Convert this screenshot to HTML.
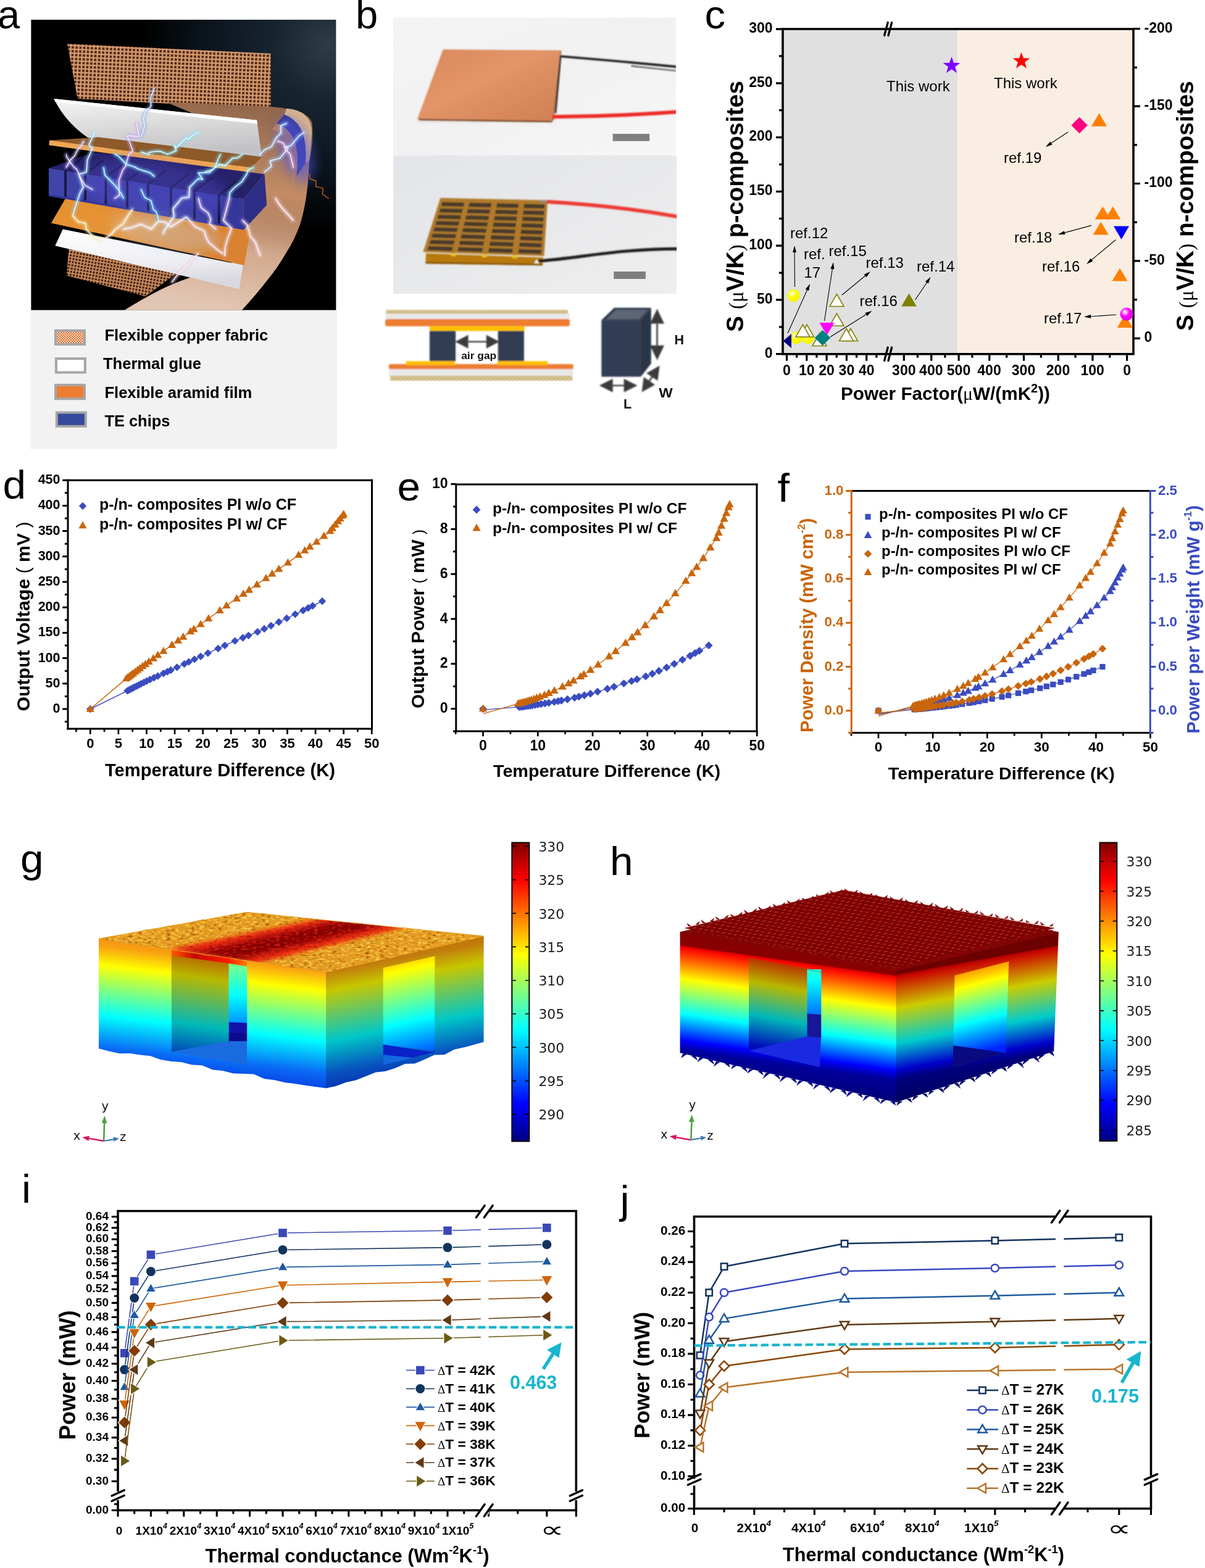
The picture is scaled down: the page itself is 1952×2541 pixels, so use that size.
<!DOCTYPE html>
<html lang="en">
<head>
<meta charset="utf-8">
<title>Flexible thermoelectric generator figure</title>
<style>
html,body{margin:0;padding:0;background:#fff;}
svg{display:block;font-family:"Liberation Sans",sans-serif;}
</style>
</head>
<body>
<svg width="1952" height="2541" viewBox="0 0 1952 2541">
<defs>
<radialGradient id="gy" cx="0.38" cy="0.35" r="0.65"><stop offset="0" stop-color="#fff"/><stop offset="0.18" stop-color="#ffffb0"/><stop offset="0.45" stop-color="#ffff00"/><stop offset="1" stop-color="#f2f200"/></radialGradient>
<radialGradient id="gm" cx="0.38" cy="0.35" r="0.65"><stop offset="0" stop-color="#fff"/><stop offset="0.2" stop-color="#ffb0ff"/><stop offset="0.5" stop-color="#ff00ff"/><stop offset="1" stop-color="#e000e0"/></radialGradient>
<linearGradient id="gL" gradientUnits="userSpaceOnUse" x1="160" y1="1521.43" x2="137.33" y2="1718.54"><stop offset="0" stop-color="#f59612"/><stop offset="0.06" stop-color="#f9a210"/><stop offset="0.21" stop-color="#ffff00"/><stop offset="0.41" stop-color="#80ff80"/><stop offset="0.62" stop-color="#00ffff"/><stop offset="0.88" stop-color="#0a6af5"/><stop offset="1" stop-color="#0848e8"/></linearGradient>
<linearGradient id="gR" gradientUnits="userSpaceOnUse" x1="783.58" y1="1517.14" x2="819.23" y2="1709.84"><stop offset="0" stop-color="#bf750e"/><stop offset="0.06" stop-color="#c27e0c"/><stop offset="0.21" stop-color="#c7c700"/><stop offset="0.41" stop-color="#64c764"/><stop offset="0.62" stop-color="#00c7c7"/><stop offset="0.88" stop-color="#0853bf"/><stop offset="1" stop-color="#0638b5"/></linearGradient>
<linearGradient id="gLi" gradientUnits="userSpaceOnUse" x1="277.86" y1="1548.43" x2="258.17" y2="1695.8"><stop offset="0%" stop-color="#b87200"/><stop offset="19.79%" stop-color="#b8b800"/><stop offset="45.83%" stop-color="#5cb85c"/><stop offset="71.88%" stop-color="#00b8b8"/><stop offset="97.92%" stop-color="#005cb8"/><stop offset="100%" stop-color="#0054b8"/></linearGradient>
<linearGradient id="gRi" gradientUnits="userSpaceOnUse" x1="704.29" y1="1549.29" x2="737.16" y2="1691.7"><stop offset="0%" stop-color="#ffdb00"/><stop offset="7.95%" stop-color="#ffff00"/><stop offset="36.36%" stop-color="#80ff80"/><stop offset="64.77%" stop-color="#00ffff"/><stop offset="93.18%" stop-color="#0080ff"/><stop offset="100%" stop-color="#0061ff"/></linearGradient>
<linearGradient id="gBk" x1="0" y1="0" x2="0" y2="1"><stop offset="0%" stop-color="#80ff80"/><stop offset="41.67%" stop-color="#00ffff"/><stop offset="83.33%" stop-color="#0080ff"/><stop offset="100%" stop-color="#004dff"/></linearGradient>
<linearGradient id="gRed" x1="0" y1="0" x2="1" y2="0"><stop offset="0" stop-color="#ff5a00"/><stop offset="0.3" stop-color="#c80a00"/><stop offset="0.75" stop-color="#ff1a00"/><stop offset="1" stop-color="#ff7a00"/></linearGradient>
<linearGradient id="hL" gradientUnits="userSpaceOnUse" x1="1101.57" y1="1510.86" x2="1070.38" y2="1733.64"><stop offset="0" stop-color="#860000"/><stop offset="0.09" stop-color="#8a0000"/><stop offset="0.1" stop-color="#e80000"/><stop offset="0.13" stop-color="#ff1800"/><stop offset="0.33" stop-color="#ffff00"/><stop offset="0.58" stop-color="#00ffff"/><stop offset="0.77" stop-color="#0000ff"/><stop offset="0.81" stop-color="#0000c0"/><stop offset="0.84" stop-color="#00009a"/><stop offset="1" stop-color="#000078"/></linearGradient>
<linearGradient id="hR" gradientUnits="userSpaceOnUse" x1="1714.87" y1="1510.86" x2="1754.69" y2="1732.12"><stop offset="0" stop-color="#6b0000"/><stop offset="0.09" stop-color="#6e0000"/><stop offset="0.1" stop-color="#ba0000"/><stop offset="0.13" stop-color="#cc1300"/><stop offset="0.33" stop-color="#cccc00"/><stop offset="0.58" stop-color="#00cccc"/><stop offset="0.77" stop-color="#0000cc"/><stop offset="0.81" stop-color="#00009a"/><stop offset="0.84" stop-color="#00007b"/><stop offset="1" stop-color="#000060"/></linearGradient>
<linearGradient id="hLi" gradientUnits="userSpaceOnUse" x1="1213" y1="1552.86" x2="1188.47" y2="1688.42"><stop offset="0%" stop-color="#b83700"/><stop offset="7.58%" stop-color="#b85c00"/><stop offset="26.52%" stop-color="#b8b800"/><stop offset="45.45%" stop-color="#5cb85c"/><stop offset="64.39%" stop-color="#00b8b8"/><stop offset="83.33%" stop-color="#005cb8"/><stop offset="100%" stop-color="#000bb8"/></linearGradient>
<linearGradient id="hRi" gradientUnits="userSpaceOnUse" x1="1634.29" y1="1558" x2="1667.01" y2="1684.54"><stop offset="0%" stop-color="#ff9e00"/><stop offset="16.96%" stop-color="#ffff00"/><stop offset="39.29%" stop-color="#80ff80"/><stop offset="61.61%" stop-color="#00ffff"/><stop offset="83.93%" stop-color="#0080ff"/><stop offset="100%" stop-color="#0024ff"/></linearGradient>
<linearGradient id="hBk" x1="0" y1="0" x2="0" y2="1"><stop offset="0%" stop-color="#2effd1"/><stop offset="16.07%" stop-color="#00ffff"/><stop offset="60.71%" stop-color="#0080ff"/><stop offset="100%" stop-color="#000fff"/></linearGradient>
<linearGradient id="jet" x1="0" y1="0" x2="0" y2="1"><stop offset="0%" stop-color="#800000"/><stop offset="12.5%" stop-color="#ff0000"/><stop offset="25%" stop-color="#ff8000"/><stop offset="37.5%" stop-color="#ffff00"/><stop offset="50%" stop-color="#80ff80"/><stop offset="62.5%" stop-color="#00ffff"/><stop offset="75%" stop-color="#0080ff"/><stop offset="87.5%" stop-color="#0000ff"/><stop offset="100%" stop-color="#000080"/></linearGradient>
<filter id="gtex" x="0" y="0" width="1" height="1" color-interpolation-filters="sRGB">
<feTurbulence type="fractalNoise" baseFrequency="0.13 0.3" numOctaves="3" seed="7" result="n"/>
<feColorMatrix in="n" type="matrix" values="0 0 0 0 1  0 0 0 0 0.88  0 0 0 0 0.35  2.6 0 0 0 -1.25" result="hi"/>
<feColorMatrix in="n" type="matrix" values="0 0 0 0 0.5  0 0 0 0 0.2  0 0 0 0 0  0 -2.4 0 0 1.1" result="lo"/>
<feMerge result="m"><feMergeNode in="SourceGraphic"/><feMergeNode in="lo"/><feMergeNode in="hi"/></feMerge>
<feComposite in="m" in2="SourceGraphic" operator="in"/>
</filter>
<filter id="gtex2" x="0" y="0" width="1" height="1" color-interpolation-filters="sRGB">
<feTurbulence type="fractalNoise" baseFrequency="0.13 0.3" numOctaves="3" seed="11" result="n"/>
<feColorMatrix in="n" type="matrix" values="0 0 0 0 1  0 0 0 0 0.25  0 0 0 0 0.1  3 0 0 0 -1.45" result="hi"/>
<feColorMatrix in="n" type="matrix" values="0 0 0 0 0.3  0 0 0 0 0  0 0 0 0 0  0 -3 0 0 1.4" result="lo"/>
<feMerge result="m"><feMergeNode in="lo"/><feMergeNode in="hi"/></feMerge>
<feComposite in="m" in2="SourceGraphic" operator="in"/>
</filter>
<filter id="b3" x="-0.2" y="-0.5" width="1.4" height="2"><feGaussianBlur stdDeviation="3.2"/></filter>
<filter id="b1" x="-0.1" y="-0.1" width="1.2" height="1.2"><feGaussianBlur stdDeviation="1.2"/></filter>
<pattern id="hweave" width="9" height="9" patternUnits="userSpaceOnUse" patternTransform="matrix(1.05 0.17 -1.45 0.42 1100 1510)"><rect width="9" height="9" fill="#800404"/><ellipse cx="2.4" cy="2.4" rx="3.1" ry="1.3" fill="#b4241a" transform="rotate(45 2.4 2.4)"/><ellipse cx="6.9" cy="6.9" rx="3.1" ry="1.2" fill="#5e0000" transform="rotate(-45 6.9 6.9)"/></pattern>
<clipPath id="gtop"><polygon points="160,1521.43 400,1478.57 783.58,1517.14 528.58,1575"/></clipPath>
<pattern id="mesh" width="6.2" height="6.2" patternUnits="userSpaceOnUse" patternTransform="rotate(2.5)"><rect width="6.2" height="6.2" fill="#d39a70"/><rect x="1.5" y="1.5" width="3.7" height="3.7" fill="#4e230c"/></pattern>
<pattern id="mesh2" width="2.7" height="2.7" patternUnits="userSpaceOnUse" patternTransform="rotate(-28)"><rect width="2.7" height="2.7" fill="#d9a27c"/><rect x="0.8" y="0.8" width="1.4" height="1.4" fill="#8a4e2a"/></pattern>
<pattern id="mesh3" width="5.2" height="5.2" patternUnits="userSpaceOnUse" patternTransform="rotate(10)"><rect width="5.2" height="5.2" fill="#c88a5e"/><rect x="1.2" y="1.2" width="3.1" height="3.1" fill="#3a1a0a"/></pattern>
<radialGradient id="aglow" gradientUnits="userSpaceOnUse" cx="530" cy="75" r="300"><stop offset="0" stop-color="#2e3c48"/><stop offset="0.3" stop-color="#172430"/><stop offset="0.7" stop-color="#0a121a"/><stop offset="1" stop-color="#000"/></radialGradient>
<linearGradient id="awh" x1="0" y1="0" x2="0.25" y2="1"><stop offset="0" stop-color="#fbfbfb"/><stop offset="0.12" stop-color="#efefef"/><stop offset="0.6" stop-color="#d6d6d6"/><stop offset="1" stop-color="#c2c2c6"/></linearGradient>
<linearGradient id="awh2" x1="0" y1="0" x2="0.2" y2="1"><stop offset="0" stop-color="#ffffff"/><stop offset="0.6" stop-color="#f0f0f4"/><stop offset="1" stop-color="#d8d8e0"/></linearGradient>
<linearGradient id="aor" x1="0" y1="0" x2="1" y2="0.3"><stop offset="0" stop-color="#e3902e"/><stop offset="0.5" stop-color="#e8953a"/><stop offset="1" stop-color="#d98230"/></linearGradient>
<linearGradient id="abl" x1="0" y1="0" x2="1" y2="0"><stop offset="0" stop-color="#4045a8"/><stop offset="1" stop-color="#34389a"/></linearGradient>
<linearGradient id="aband" gradientUnits="userSpaceOnUse" x1="430" y1="180" x2="380" y2="500"><stop offset="0" stop-color="#000" stop-opacity="0.25"/><stop offset="0.4" stop-color="#000" stop-opacity="0"/><stop offset="0.7" stop-color="#fff" stop-opacity="0.25"/><stop offset="1" stop-color="#fff" stop-opacity="0.5"/></linearGradient>
<filter id="asoft" x="0" y="0" width="1" height="1"><feGaussianBlur stdDeviation="0.7"/></filter>
<filter id="aglw" x="-0.5" y="-0.5" width="2" height="2"><feGaussianBlur stdDeviation="2.2"/></filter>
<filter id="aglw2" x="-0.5" y="-0.5" width="2" height="2"><feGaussianBlur stdDeviation="9"/></filter>
<clipPath id="aclip"><rect x="50.2" y="31.8" width="294.3" height="470.9" transform="scale(1)"/></clipPath>
<clipPath id="aclip2"><rect x="50.2" y="31.8" width="494.4" height="470.9"/></clipPath>
<pattern id="chk" width="4" height="4" patternUnits="userSpaceOnUse"><rect width="4" height="4" fill="#fbe5d6"/><rect width="2" height="2" fill="#d9641e"/><rect x="2" y="2" width="2" height="2" fill="#d9641e"/></pattern>
<linearGradient id="bbg1" x1="0" y1="0" x2="1" y2="1"><stop offset="0" stop-color="#f3f4f5"/><stop offset="0.5" stop-color="#f1f1f2"/><stop offset="1" stop-color="#f6f6f6"/></linearGradient>
<linearGradient id="bbg2" x1="0" y1="0" x2="1" y2="1"><stop offset="0" stop-color="#e3e5e9"/><stop offset="0.5" stop-color="#e8e9eb"/><stop offset="1" stop-color="#eeeeee"/></linearGradient>
<linearGradient id="bcu" x1="0" y1="0" x2="1" y2="1"><stop offset="0" stop-color="#d98b5e"/><stop offset="0.45" stop-color="#e39468"/><stop offset="1" stop-color="#cf8052"/></linearGradient>
<filter id="bsoft" x="-0.05" y="-0.05" width="1.1" height="1.1"><feGaussianBlur stdDeviation="0.9"/></filter>
<filter id="bsh" x="-0.2" y="-0.2" width="1.4" height="1.4"><feGaussianBlur stdDeviation="4"/></filter>
<pattern id="fab" width="7" height="6" patternUnits="userSpaceOnUse"><rect width="7" height="6" fill="#d9c58e"/><rect x="0.5" y="1" width="2.2" height="1.6" fill="#9a7a2e"/><rect x="3.6" y="3.4" width="2.4" height="1.6" fill="#a8883a"/><rect x="3.2" y="0.6" width="1.4" height="1.2" fill="#f3ead0"/></pattern>
<clipPath id="bc1"><rect x="636.9" y="28.2" width="458" height="223.6"/></clipPath>
<clipPath id="bc2"><rect x="636.9" y="251.7" width="459.1" height="224.6"/></clipPath>
</defs>
<rect width="1952" height="2541" fill="#fff"/>
<g id="p-c">
<rect x="1268" y="47" width="283" height="526.7" fill="#e0e0e0"/>
<rect x="1551" y="47" width="285" height="526.7" fill="#faeee3"/>
<g stroke="#000" stroke-width="3.6" fill="none" stroke-linecap="butt">
<path d="M1266.2 47 H1837.8 M1266.2 573.7 H1837.8 M1268 47 V573.7 M1836 47 V573.7"/>
<path d="M1268 573.7H1257M1268 529.81H1262M1268 485.93H1257M1268 442.04H1262M1268 398.15H1257M1268 354.26H1262M1268 310.38H1257M1268 266.49H1262M1268 222.6H1257M1268 178.71H1262M1268 134.83H1257M1268 90.94H1262M1268 47.05H1257M1836 548.3H1847M1836 485.6H1842M1836 422.9H1847M1836 360.2H1842M1836 297.5H1847M1836 234.8H1842M1836 172.1H1847M1836 109.4H1842M1836 46.7H1847M1274.5 573.7V584.7M1290.65 573.7V579.7M1306.8 573.7V584.7M1322.95 573.7V579.7M1339.1 573.7V584.7M1355.25 573.7V579.7M1371.4 573.7V584.7M1387.55 573.7V579.7M1403.7 573.7V584.7M1419.85 573.7V579.7M1464.3 573.7V584.7M1486.5 573.7V579.7M1508.7 573.7V584.7M1530.9 573.7V579.7M1553.1 573.7V584.7M1825.6 573.7V584.7M1797.75 573.7V579.7M1769.9 573.7V584.7M1742.05 573.7V579.7M1714.2 573.7V584.7M1686.35 573.7V579.7M1658.5 573.7V584.7M1630.65 573.7V579.7M1602.8 573.7V584.7M1574.95 573.7V579.7" stroke-width="3.2"/>
</g>
<g stroke="#000" stroke-width="3.3" stroke-linecap="round">
<line x1="1432.6" y1="57.5" x2="1438.2" y2="36.5"/>
<line x1="1439" y1="57.5" x2="1444.6" y2="36.5"/>
<line x1="1432.6" y1="584.5" x2="1438.2" y2="563"/>
<line x1="1439" y1="584.5" x2="1444.6" y2="563"/>
</g>
<g font-weight="bold" font-size="23">
<text x="1251.5" y="579.5" text-anchor="end">0</text>
<text x="1251.5" y="491.73" text-anchor="end">50</text>
<text x="1251.5" y="403.95" text-anchor="end">100</text>
<text x="1251.5" y="316.18" text-anchor="end">150</text>
<text x="1251.5" y="228.4" text-anchor="end">200</text>
<text x="1251.5" y="140.63" text-anchor="end">250</text>
<text x="1251.5" y="52.85" text-anchor="end">300</text>
<text x="1853.5" y="554.1">0</text>
<text x="1853.5" y="428.7">-50</text>
<text x="1853.5" y="303.3">-100</text>
<text x="1853.5" y="177.9">-150</text>
<text x="1853.5" y="52.5">-200</text>
<g text-anchor="middle">
<text x="1274.5" y="608.2">0</text>
<text x="1306.8" y="608.2">10</text>
<text x="1339.1" y="608.2">20</text>
<text x="1371.4" y="608.2">30</text>
<text x="1403.7" y="608.2">40</text>
<text x="1464.3" y="608.2">300</text>
<text x="1508.3" y="608.2">400</text>
<text x="1553" y="608.2">500</text>
<text x="1602.5" y="608.2">400</text>
<text x="1658" y="608.2">300</text>
<text x="1714" y="608.2">200</text>
<text x="1769.6" y="608.2">100</text>
<text x="1825.6" y="608.2">0</text>
</g></g>
<text x="1362" y="647.6" font-size="29.8" font-weight="bold" textLength="339" lengthAdjust="spacingAndGlyphs">Power Factor(<tspan font-family='"Liberation Serif", serif' font-weight="normal">μ</tspan>W/(mK<tspan font-size="20" dy="-11.5">2</tspan><tspan dy="11.5">))</tspan></text>
<text x="1203.5" y="538" font-size="39.2" font-weight="bold" transform="rotate(-90 1203.5 538)" textLength="407" lengthAdjust="spacingAndGlyphs">S <tspan font-family='"Liberation Serif", serif' font-weight="normal" font-size="33">(μ</tspan>V/K<tspan font-family='"Liberation Serif", serif' font-weight="normal" font-size="33">)</tspan> p-composites</text>
<text x="1933" y="536" font-size="39.2" font-weight="bold" transform="rotate(-90 1933 536)" textLength="405" lengthAdjust="spacingAndGlyphs">S <tspan font-family='"Liberation Serif", serif' font-weight="normal" font-size="33">(μ</tspan>V/K<tspan font-family='"Liberation Serif", serif' font-weight="normal" font-size="33">)</tspan> n-composites</text>
<circle cx="1290" cy="547.5" r="10" fill="url(#gy)"/>
<circle cx="1309" cy="547.5" r="10" fill="url(#gy)"/>
<polygon points="1327.5,540.5 1339,560.5 1316,560.5" fill="#fff" stroke="#808000" stroke-width="1.6"/>
<polygon points="1307,526 1318.5,546 1295.5,546" fill="#fff" stroke="#808000" stroke-width="1.6"/>
<polygon points="1300.5,526 1312,546 1289,546" fill="#fff" stroke="#808000" stroke-width="1.6"/>
<polygon points="1378,532.5 1389.5,552.5 1366.5,552.5" fill="#fff" stroke="#808000" stroke-width="1.6"/>
<polygon points="1371,532.5 1382.5,552.5 1359.5,552.5" fill="#fff" stroke="#808000" stroke-width="1.6"/>
<polygon points="1355.5,508 1367,528 1344,528" fill="#fff" stroke="#808000" stroke-width="1.6"/>
<polygon points="1355.5,476.5 1367,496.5 1344,496.5" fill="#fff" stroke="#808000" stroke-width="1.6"/>
<polygon points="1327.5,523 1351.5,523 1339.5,543" fill="#ff00ff"/>
<polygon points="1332.5,534.7 1345.3,547.5 1332.5,560.3 1319.7,547.5" fill="#008080"/>
<polygon points="1268.5,552.5 1282,541 1282,564" fill="#000080"/>
<circle cx="1285.5" cy="479" r="10.3" fill="url(#gy)"/>
<polygon points="1472.5,475.5 1484.8,496.5 1460.2,496.5" fill="#808000"/>
<polygon points="1541.5,92 1544.91,101.81 1555.29,102.02 1547.02,108.29 1550.02,118.23 1541.5,112.3 1532.98,118.23 1535.98,108.29 1527.71,102.02 1538.09,101.81" fill="#7f00ff"/>
<polygon points="1654.5,84.5 1657.91,94.31 1668.29,94.52 1660.02,100.79 1663.02,110.73 1654.5,104.8 1645.98,110.73 1648.98,100.79 1640.71,94.52 1651.09,94.31" fill="#ff0000"/>
<polygon points="1748.6,189.8 1761.8,203 1748.6,216.2 1735.4,203" fill="#ff0080"/>
<polygon points="1780.5,183.3 1793.1,204.8 1767.9,204.8" fill="#ff8000"/>
<polygon points="1786.3,334.5 1798.9,355.5 1773.7,355.5" fill="#ff8000"/>
<polygon points="1802.8,334.5 1815.4,355.5 1790.2,355.5" fill="#ff8000"/>
<polygon points="1783.3,359.5 1795.9,380.5 1770.7,380.5" fill="#ff8000"/>
<polygon points="1814,434.5 1826.6,455.5 1801.4,455.5" fill="#ff8000"/>
<polygon points="1822.3,510 1834.9,531 1809.7,531" fill="#ff8000"/>
<polygon points="1804,366.6 1829,366.6 1816.5,388" fill="#0000ff"/>
<circle cx="1825" cy="509" r="10.5" fill="url(#gm)"/>
<line x1="1287.5" y1="465" x2="1287.07" y2="407" stroke="#000" stroke-width="1.1"/><polygon points="1287,398 1290.08,408.98 1284.08,409.02" fill="#000"/>
<line x1="1276" y1="540" x2="1308.31" y2="468.21" stroke="#000" stroke-width="1.1"/><polygon points="1312,460 1310.22,471.26 1304.75,468.8" fill="#000"/>
<line x1="1335.5" y1="520" x2="1348.64" y2="433.9" stroke="#000" stroke-width="1.1"/><polygon points="1350,425 1351.31,436.33 1345.37,435.42" fill="#000"/>
<line x1="1364" y1="478" x2="1403.06" y2="445.73" stroke="#000" stroke-width="1.1"/><polygon points="1410,440 1403.43,449.32 1399.61,444.69" fill="#000"/>
<line x1="1345" y1="546" x2="1404.87" y2="508.57" stroke="#000" stroke-width="1.1"/><polygon points="1412.5,503.8 1404.76,512.18 1401.58,507.09" fill="#000"/>
<line x1="1482.5" y1="486" x2="1502.48" y2="456.27" stroke="#000" stroke-width="1.1"/><polygon points="1507.5,448.8 1503.85,459.6 1498.87,456.26" fill="#000"/>
<line x1="1730" y1="214" x2="1701.3" y2="233.03" stroke="#000" stroke-width="1.1"/><polygon points="1693.8,238 1701.31,229.42 1704.63,234.42" fill="#000"/>
<line x1="1768" y1="365.4" x2="1722.69" y2="377.65" stroke="#000" stroke-width="1.1"/><polygon points="1714,380 1723.84,374.23 1725.4,380.03" fill="#000"/>
<line x1="1807.6" y1="388.5" x2="1766.93" y2="422.25" stroke="#000" stroke-width="1.1"/><polygon points="1760,428 1766.55,418.67 1770.38,423.28" fill="#000"/>
<line x1="1808.4" y1="510" x2="1764.98" y2="512.98" stroke="#000" stroke-width="1.1"/><polygon points="1756,513.6 1766.77,509.85 1767.18,515.84" fill="#000"/>
<g font-size="24">
<text x="1436" y="147.5">This work</text>
<text x="1610" y="143">This work</text>
<text x="1280" y="386">ref.12</text>
<text x="1302" y="420">ref.</text>
<text x="1302.5" y="450">17</text>
<text x="1342.5" y="415">ref.15</text>
<text x="1402.5" y="434">ref.13</text>
<text x="1485" y="439.5">ref.14</text>
<text x="1392.5" y="496">ref.16</text>
<text x="1626" y="264">ref.19</text>
<text x="1643" y="393">ref.18</text>
<text x="1688" y="439.5">ref.16</text>
<text x="1691" y="523.7">ref.17</text>
</g>
<text x="1141.5" y="46" font-size="64" textLength="33.5" lengthAdjust="spacingAndGlyphs">c</text>
</g>
<g id="p-d">
<g fill="none" stroke-width="3">
<path stroke="#000" d="M108.5 778.2H604 M108.5 1181H604"/>
<path stroke="#000" stroke-width="2.7" d="M123.45 1181V1186.1M146.25 1181V1189.8M169.05 1181V1186.1M191.85 1181V1189.8M214.65 1181V1186.1M237.45 1181V1189.8M260.25 1181V1186.1M283.05 1181V1189.8M305.85 1181V1186.1M328.65 1181V1189.8M351.45 1181V1186.1M374.25 1181V1189.8M397.05 1181V1186.1M419.85 1181V1189.8M442.65 1181V1186.1M465.45 1181V1189.8M488.25 1181V1186.1M511.05 1181V1189.8M533.85 1181V1186.1M556.65 1181V1189.8M579.45 1181V1186.1M602.25 1181V1189.8"/>
<path stroke="#000" d="M110 776.7V1182.5M110 1169.6H104.9M110 1149H101.2M110 1128.4H104.9M110 1107.8H101.2M110 1087.2H104.9M110 1066.6H101.2M110 1046H104.9M110 1025.4H101.2M110 1004.8H104.9M110 984.2H101.2M110 963.6H104.9M110 943H101.2M110 922.4H104.9M110 901.8H101.2M110 881.2H104.9M110 860.6H101.2M110 840H104.9M110 819.4H101.2M110 798.8H104.9M110 778.2H101.2"/>
<path stroke="#000" d="M602.5 776.7V1182.5"/>
</g>
<g font-weight="bold" font-size="21.5">
<g text-anchor="end">
<text x="97.5" y="1154.9">0</text>
<text x="97.5" y="1113.7">50</text>
<text x="97.5" y="1072.5">100</text>
<text x="97.5" y="1031.3">150</text>
<text x="97.5" y="990.1">200</text>
<text x="97.5" y="948.9">250</text>
<text x="97.5" y="907.7">300</text>
<text x="97.5" y="866.5">350</text>
<text x="97.5" y="825.3">400</text>
<text x="97.5" y="784.1">450</text>
</g><g text-anchor="middle">
<text x="146.25" y="1212.2" font-size="22">0</text>
<text x="191.85" y="1212.2" font-size="22">5</text>
<text x="237.45" y="1212.2" font-size="22">10</text>
<text x="283.05" y="1212.2" font-size="22">15</text>
<text x="328.65" y="1212.2" font-size="22">20</text>
<text x="374.25" y="1212.2" font-size="22">25</text>
<text x="419.85" y="1212.2" font-size="22">30</text>
<text x="465.45" y="1212.2" font-size="22">35</text>
<text x="511.05" y="1212.2" font-size="22">40</text>
<text x="556.65" y="1212.2" font-size="22">45</text>
<text x="602.25" y="1212.2" font-size="22">50</text>
</g></g>
<polyline points="146.25,1149 206.44,1119.34 209.18,1117.95 211.91,1116.57 214.65,1115.19 217.39,1113.81 221.03,1111.97 224.68,1110.13 228.33,1108.28 232.89,1105.98 237.45,1103.68 242.92,1101.21 249.31,1098.32 255.69,1095.44 264.81,1091.32 271.19,1088.44 276.67,1085.96 286.7,1081.4 298.55,1075.96 305.85,1072.61 314.97,1068.42 325,1063.81 336.86,1058.36 353.27,1050.94 364.22,1046 380.63,1038.58 393.4,1033.49 402.52,1029.85 417.11,1024.02 428.06,1019.07 439,1013.93 451.77,1007.93 464.54,1001.93 478.22,995.36 490.99,989.22 499.19,985.28 506.49,981.77 521.99,974.31" fill="none" stroke="#3a4cc0" stroke-width="1.5" stroke-linejoin="round"/>
<g fill="#3a4cc0">
<path d="M146.25 1142.8l6.2 6.2l-6.2 6.2l-6.2 -6.2z"/>
<path d="M206.44 1113.14l6.2 6.2l-6.2 6.2l-6.2 -6.2z"/>
<path d="M209.18 1111.75l6.2 6.2l-6.2 6.2l-6.2 -6.2z"/>
<path d="M211.91 1110.37l6.2 6.2l-6.2 6.2l-6.2 -6.2z"/>
<path d="M214.65 1108.99l6.2 6.2l-6.2 6.2l-6.2 -6.2z"/>
<path d="M217.39 1107.61l6.2 6.2l-6.2 6.2l-6.2 -6.2z"/>
<path d="M221.03 1105.77l6.2 6.2l-6.2 6.2l-6.2 -6.2z"/>
<path d="M224.68 1103.93l6.2 6.2l-6.2 6.2l-6.2 -6.2z"/>
<path d="M228.33 1102.08l6.2 6.2l-6.2 6.2l-6.2 -6.2z"/>
<path d="M232.89 1099.78l6.2 6.2l-6.2 6.2l-6.2 -6.2z"/>
<path d="M237.45 1097.48l6.2 6.2l-6.2 6.2l-6.2 -6.2z"/>
<path d="M242.92 1095.01l6.2 6.2l-6.2 6.2l-6.2 -6.2z"/>
<path d="M249.31 1092.12l6.2 6.2l-6.2 6.2l-6.2 -6.2z"/>
<path d="M255.69 1089.24l6.2 6.2l-6.2 6.2l-6.2 -6.2z"/>
<path d="M264.81 1085.12l6.2 6.2l-6.2 6.2l-6.2 -6.2z"/>
<path d="M271.19 1082.24l6.2 6.2l-6.2 6.2l-6.2 -6.2z"/>
<path d="M276.67 1079.76l6.2 6.2l-6.2 6.2l-6.2 -6.2z"/>
<path d="M286.7 1075.2l6.2 6.2l-6.2 6.2l-6.2 -6.2z"/>
<path d="M298.55 1069.76l6.2 6.2l-6.2 6.2l-6.2 -6.2z"/>
<path d="M305.85 1066.41l6.2 6.2l-6.2 6.2l-6.2 -6.2z"/>
<path d="M314.97 1062.22l6.2 6.2l-6.2 6.2l-6.2 -6.2z"/>
<path d="M325 1057.61l6.2 6.2l-6.2 6.2l-6.2 -6.2z"/>
<path d="M336.86 1052.16l6.2 6.2l-6.2 6.2l-6.2 -6.2z"/>
<path d="M353.27 1044.74l6.2 6.2l-6.2 6.2l-6.2 -6.2z"/>
<path d="M364.22 1039.8l6.2 6.2l-6.2 6.2l-6.2 -6.2z"/>
<path d="M380.63 1032.38l6.2 6.2l-6.2 6.2l-6.2 -6.2z"/>
<path d="M393.4 1027.29l6.2 6.2l-6.2 6.2l-6.2 -6.2z"/>
<path d="M402.52 1023.65l6.2 6.2l-6.2 6.2l-6.2 -6.2z"/>
<path d="M417.11 1017.82l6.2 6.2l-6.2 6.2l-6.2 -6.2z"/>
<path d="M428.06 1012.87l6.2 6.2l-6.2 6.2l-6.2 -6.2z"/>
<path d="M439 1007.73l6.2 6.2l-6.2 6.2l-6.2 -6.2z"/>
<path d="M451.77 1001.73l6.2 6.2l-6.2 6.2l-6.2 -6.2z"/>
<path d="M464.54 995.73l6.2 6.2l-6.2 6.2l-6.2 -6.2z"/>
<path d="M478.22 989.16l6.2 6.2l-6.2 6.2l-6.2 -6.2z"/>
<path d="M490.99 983.02l6.2 6.2l-6.2 6.2l-6.2 -6.2z"/>
<path d="M499.19 979.08l6.2 6.2l-6.2 6.2l-6.2 -6.2z"/>
<path d="M506.49 975.57l6.2 6.2l-6.2 6.2l-6.2 -6.2z"/>
<path d="M521.99 968.11l6.2 6.2l-6.2 6.2l-6.2 -6.2z"/>
</g>
<polyline points="146.25,1149 204.62,1099.56 207.35,1097.5 210.09,1095.44 212.83,1093.38 215.56,1091.32 219.21,1088.57 222.86,1085.83 226.51,1083.08 231.07,1079.65 235.63,1076.21 241.1,1072.2 248.39,1066.93 255.69,1061.66 264.81,1055.06 278.49,1045.18 288.52,1037.92 296.73,1031.99 308.59,1023.42 314.06,1019.47 325,1011.56 337.77,1002.36 356.01,989.24 366.95,981.36 383.37,969.96 394.31,962.36 403.43,956.04 416.2,947.18 430.79,936.94 440.83,929.87 451.77,922.15 466.36,911.85 483.69,899.33 493.72,892.08 501.93,886.14 512.87,878.09 524.73,868.62 534.76,860.6 538.41,856.07 542.97,850.4 547.53,844.74 551.18,840.21 554.83,835.67 556.65,833.41" fill="none" stroke="#c9650b" stroke-width="1.5" stroke-linejoin="round"/>
<g fill="#c9650b">
<path d="M146.25 1141.95l6.6 11.75h-13.2z"/>
<path d="M204.62 1092.51l6.6 11.75h-13.2z"/>
<path d="M207.35 1090.45l6.6 11.75h-13.2z"/>
<path d="M210.09 1088.39l6.6 11.75h-13.2z"/>
<path d="M212.83 1086.33l6.6 11.75h-13.2z"/>
<path d="M215.56 1084.27l6.6 11.75h-13.2z"/>
<path d="M219.21 1081.52l6.6 11.75h-13.2z"/>
<path d="M222.86 1078.78l6.6 11.75h-13.2z"/>
<path d="M226.51 1076.03l6.6 11.75h-13.2z"/>
<path d="M231.07 1072.6l6.6 11.75h-13.2z"/>
<path d="M235.63 1069.16l6.6 11.75h-13.2z"/>
<path d="M241.1 1065.15l6.6 11.75h-13.2z"/>
<path d="M248.39 1059.88l6.6 11.75h-13.2z"/>
<path d="M255.69 1054.61l6.6 11.75h-13.2z"/>
<path d="M264.81 1048.02l6.6 11.75h-13.2z"/>
<path d="M278.49 1038.13l6.6 11.75h-13.2z"/>
<path d="M288.52 1030.88l6.6 11.75h-13.2z"/>
<path d="M296.73 1024.94l6.6 11.75h-13.2z"/>
<path d="M308.59 1016.37l6.6 11.75h-13.2z"/>
<path d="M314.06 1012.42l6.6 11.75h-13.2z"/>
<path d="M325 1004.51l6.6 11.75h-13.2z"/>
<path d="M337.77 995.31l6.6 11.75h-13.2z"/>
<path d="M356.01 982.19l6.6 11.75h-13.2z"/>
<path d="M366.95 974.31l6.6 11.75h-13.2z"/>
<path d="M383.37 962.91l6.6 11.75h-13.2z"/>
<path d="M394.31 955.32l6.6 11.75h-13.2z"/>
<path d="M403.43 948.99l6.6 11.75h-13.2z"/>
<path d="M416.2 940.13l6.6 11.75h-13.2z"/>
<path d="M430.79 929.89l6.6 11.75h-13.2z"/>
<path d="M440.83 922.82l6.6 11.75h-13.2z"/>
<path d="M451.77 915.1l6.6 11.75h-13.2z"/>
<path d="M466.36 904.8l6.6 11.75h-13.2z"/>
<path d="M483.69 892.28l6.6 11.75h-13.2z"/>
<path d="M493.72 885.03l6.6 11.75h-13.2z"/>
<path d="M501.93 879.1l6.6 11.75h-13.2z"/>
<path d="M512.87 871.05l6.6 11.75h-13.2z"/>
<path d="M524.73 861.57l6.6 11.75h-13.2z"/>
<path d="M534.76 853.55l6.6 11.75h-13.2z"/>
<path d="M538.41 849.02l6.6 11.75h-13.2z"/>
<path d="M542.97 843.35l6.6 11.75h-13.2z"/>
<path d="M547.53 837.69l6.6 11.75h-13.2z"/>
<path d="M551.18 833.16l6.6 11.75h-13.2z"/>
<path d="M554.83 828.63l6.6 11.75h-13.2z"/>
<path d="M556.65 826.36l6.6 11.75h-13.2z"/>
</g>
<text x="356.5" y="1258" font-size="29" font-weight="bold" text-anchor="middle" textLength="373" lengthAdjust="spacingAndGlyphs">Temperature Difference (K)</text>
<text x="47.5" y="1152.5" font-size="30" font-weight="bold" transform="rotate(-90 47.5 1152.5)" textLength="307" lengthAdjust="spacingAndGlyphs">Output Voltage <tspan font-weight="normal">(</tspan> mV <tspan font-weight="normal">)</tspan></text>
<polygon points="134,813.8 140.2,820 134,826.2 127.8,820" fill="#3a4cc0"/>
<path d="M134 844.5l6.6 11.7h-13.2z" fill="#c9650b"/>
<text x="161" y="826.3" font-size="25" font-weight="bold" textLength="319" lengthAdjust="spacingAndGlyphs">p-/n- composites PI w/o CF</text>
<text x="161" y="858" font-size="25" font-weight="bold" textLength="304" lengthAdjust="spacingAndGlyphs">p-/n- composites PI w/ CF</text>
<text x="4.5" y="807.8" font-size="64" textLength="37.5" lengthAdjust="spacingAndGlyphs">d</text>
</g>
<g id="p-e">
<g fill="none" stroke-width="3">
<path stroke="#000" d="M737.25 785H1227.5 M737.25 1185H1227.5"/>
<path stroke="#000" stroke-width="2.7" d="M738.12 1185V1189.7M782.5 1185V1193.3M826.88 1185V1189.7M871.25 1185V1193.3M915.62 1185V1189.7M960 1185V1193.3M1004.38 1185V1189.7M1048.75 1185V1193.3M1093.12 1185V1189.7M1137.5 1185V1193.3M1181.88 1185V1189.7M1226.25 1185V1193.3"/>
<path stroke="#000" d="M738.75 783.5V1186.5M738.75 1185H734.05M738.75 1148.6H730.45M738.75 1112.2H734.05M738.75 1075.8H730.45M738.75 1039.4H734.05M738.75 1003H730.45M738.75 966.6H734.05M738.75 930.2H730.45M738.75 893.8H734.05M738.75 857.4H730.45M738.75 821H734.05M738.75 784.6H730.45"/>
<path stroke="#000" d="M1226 783.5V1186.5"/>
</g>
<g font-weight="bold" font-size="23">
<g text-anchor="end">
<text x="725.6" y="1155.2">0</text>
<text x="725.6" y="1082.4">2</text>
<text x="725.6" y="1009.6">4</text>
<text x="725.6" y="936.8">6</text>
<text x="725.6" y="864">8</text>
<text x="725.6" y="791.2">10</text>
</g><g text-anchor="middle">
<text x="782.5" y="1215.5">0</text>
<text x="871.25" y="1215.5">10</text>
<text x="960" y="1215.5">20</text>
<text x="1048.75" y="1215.5">30</text>
<text x="1137.5" y="1215.5">40</text>
<text x="1226.25" y="1215.5">50</text>
</g></g>
<polyline points="782.5,1150.42 841.08,1145.64 843.74,1145.36 846.4,1145.06 849.06,1144.76 851.73,1144.43 855.27,1143.99 858.83,1143.52 862.38,1143.02 866.81,1142.38 871.25,1141.69 876.58,1140.92 882.79,1139.96 889,1138.95 897.88,1137.41 904.09,1136.26 909.41,1135.23 919.17,1133.23 930.71,1130.65 937.81,1128.97 946.69,1126.76 956.45,1124.19 967.99,1120.96 983.96,1116.26 994.61,1112.91 1010.59,1107.59 1023.01,1103.72 1031.89,1100.84 1046.09,1096.06 1056.74,1091.82 1067.39,1087.23 1079.81,1081.66 1092.24,1075.85 1105.55,1069.2 1117.97,1062.73 1125.96,1058.43 1133.06,1054.53 1148.15,1045.95" fill="none" stroke="#3a4cc0" stroke-width="1.3" stroke-linejoin="round"/>
<g fill="#3a4cc0">
<path d="M782.5 1142.2l6.4 6.4l-6.4 6.4l-6.4 -6.4z"/>
<path d="M841.08 1139.24l6.4 6.4l-6.4 6.4l-6.4 -6.4z"/>
<path d="M843.74 1138.96l6.4 6.4l-6.4 6.4l-6.4 -6.4z"/>
<path d="M846.4 1138.66l6.4 6.4l-6.4 6.4l-6.4 -6.4z"/>
<path d="M849.06 1138.36l6.4 6.4l-6.4 6.4l-6.4 -6.4z"/>
<path d="M851.73 1138.03l6.4 6.4l-6.4 6.4l-6.4 -6.4z"/>
<path d="M855.27 1137.59l6.4 6.4l-6.4 6.4l-6.4 -6.4z"/>
<path d="M858.83 1137.12l6.4 6.4l-6.4 6.4l-6.4 -6.4z"/>
<path d="M862.38 1136.62l6.4 6.4l-6.4 6.4l-6.4 -6.4z"/>
<path d="M866.81 1135.98l6.4 6.4l-6.4 6.4l-6.4 -6.4z"/>
<path d="M871.25 1135.29l6.4 6.4l-6.4 6.4l-6.4 -6.4z"/>
<path d="M876.58 1134.52l6.4 6.4l-6.4 6.4l-6.4 -6.4z"/>
<path d="M882.79 1133.56l6.4 6.4l-6.4 6.4l-6.4 -6.4z"/>
<path d="M889 1132.55l6.4 6.4l-6.4 6.4l-6.4 -6.4z"/>
<path d="M897.88 1131.01l6.4 6.4l-6.4 6.4l-6.4 -6.4z"/>
<path d="M904.09 1129.86l6.4 6.4l-6.4 6.4l-6.4 -6.4z"/>
<path d="M909.41 1128.83l6.4 6.4l-6.4 6.4l-6.4 -6.4z"/>
<path d="M919.17 1126.83l6.4 6.4l-6.4 6.4l-6.4 -6.4z"/>
<path d="M930.71 1124.25l6.4 6.4l-6.4 6.4l-6.4 -6.4z"/>
<path d="M937.81 1122.57l6.4 6.4l-6.4 6.4l-6.4 -6.4z"/>
<path d="M946.69 1120.36l6.4 6.4l-6.4 6.4l-6.4 -6.4z"/>
<path d="M956.45 1117.79l6.4 6.4l-6.4 6.4l-6.4 -6.4z"/>
<path d="M967.99 1114.56l6.4 6.4l-6.4 6.4l-6.4 -6.4z"/>
<path d="M983.96 1109.86l6.4 6.4l-6.4 6.4l-6.4 -6.4z"/>
<path d="M994.61 1106.51l6.4 6.4l-6.4 6.4l-6.4 -6.4z"/>
<path d="M1010.59 1101.19l6.4 6.4l-6.4 6.4l-6.4 -6.4z"/>
<path d="M1023.01 1097.32l6.4 6.4l-6.4 6.4l-6.4 -6.4z"/>
<path d="M1031.89 1094.44l6.4 6.4l-6.4 6.4l-6.4 -6.4z"/>
<path d="M1046.09 1089.66l6.4 6.4l-6.4 6.4l-6.4 -6.4z"/>
<path d="M1056.74 1085.42l6.4 6.4l-6.4 6.4l-6.4 -6.4z"/>
<path d="M1067.39 1080.83l6.4 6.4l-6.4 6.4l-6.4 -6.4z"/>
<path d="M1079.81 1075.26l6.4 6.4l-6.4 6.4l-6.4 -6.4z"/>
<path d="M1092.24 1069.45l6.4 6.4l-6.4 6.4l-6.4 -6.4z"/>
<path d="M1105.55 1062.8l6.4 6.4l-6.4 6.4l-6.4 -6.4z"/>
<path d="M1117.97 1056.33l6.4 6.4l-6.4 6.4l-6.4 -6.4z"/>
<path d="M1125.96 1052.03l6.4 6.4l-6.4 6.4l-6.4 -6.4z"/>
<path d="M1133.06 1048.13l6.4 6.4l-6.4 6.4l-6.4 -6.4z"/>
<path d="M1148.15 1039.55l6.4 6.4l-6.4 6.4l-6.4 -6.4z"/>
</g>
<polyline points="782.5,1156.61 839.3,1140.47 841.96,1139.78 844.62,1139.06 847.29,1138.31 849.95,1137.54 853.5,1136.46 857.05,1135.33 860.6,1134.15 865.04,1132.6 869.48,1130.98 874.8,1128.99 881.9,1126.2 889,1123.23 897.88,1119.25 911.19,1112.75 920.95,1107.57 928.94,1103.07 940.48,1096.15 945.8,1092.8 956.45,1085.77 968.88,1077.08 986.62,1063.71 997.27,1055.14 1013.25,1041.99 1023.9,1032.75 1032.78,1024.77 1045.2,1013.14 1059.4,999.04 1069.16,988.9 1079.81,977.46 1094.01,961.56 1110.88,941.29 1120.64,929.07 1128.62,918.81 1139.28,904.52 1150.81,887.15 1160.58,871.98 1164.12,863.22 1168.56,852.07 1173,840.72 1176.55,831.48 1180.1,822.1 1181.88,817.36" fill="none" stroke="#c9650b" stroke-width="1.3" stroke-linejoin="round"/>
<g fill="#c9650b">
<path d="M782.5 1141.44l6.7 11.93h-13.4z"/>
<path d="M839.3 1133.32l6.7 11.93h-13.4z"/>
<path d="M841.96 1132.62l6.7 11.93h-13.4z"/>
<path d="M844.62 1131.9l6.7 11.93h-13.4z"/>
<path d="M847.29 1131.16l6.7 11.93h-13.4z"/>
<path d="M849.95 1130.38l6.7 11.93h-13.4z"/>
<path d="M853.5 1129.3l6.7 11.93h-13.4z"/>
<path d="M857.05 1128.17l6.7 11.93h-13.4z"/>
<path d="M860.6 1126.99l6.7 11.93h-13.4z"/>
<path d="M865.04 1125.45l6.7 11.93h-13.4z"/>
<path d="M869.48 1123.82l6.7 11.93h-13.4z"/>
<path d="M874.8 1121.83l6.7 11.93h-13.4z"/>
<path d="M881.9 1119.04l6.7 11.93h-13.4z"/>
<path d="M889 1116.07l6.7 11.93h-13.4z"/>
<path d="M897.88 1112.1l6.7 11.93h-13.4z"/>
<path d="M911.19 1105.59l6.7 11.93h-13.4z"/>
<path d="M920.95 1100.41l6.7 11.93h-13.4z"/>
<path d="M928.94 1095.91l6.7 11.93h-13.4z"/>
<path d="M940.48 1089l6.7 11.93h-13.4z"/>
<path d="M945.8 1085.64l6.7 11.93h-13.4z"/>
<path d="M956.45 1078.62l6.7 11.93h-13.4z"/>
<path d="M968.88 1069.93l6.7 11.93h-13.4z"/>
<path d="M986.62 1056.56l6.7 11.93h-13.4z"/>
<path d="M997.27 1047.98l6.7 11.93h-13.4z"/>
<path d="M1013.25 1034.83l6.7 11.93h-13.4z"/>
<path d="M1023.9 1025.6l6.7 11.93h-13.4z"/>
<path d="M1032.78 1017.61l6.7 11.93h-13.4z"/>
<path d="M1045.2 1005.98l6.7 11.93h-13.4z"/>
<path d="M1059.4 991.88l6.7 11.93h-13.4z"/>
<path d="M1069.16 981.74l6.7 11.93h-13.4z"/>
<path d="M1079.81 970.3l6.7 11.93h-13.4z"/>
<path d="M1094.01 954.41l6.7 11.93h-13.4z"/>
<path d="M1110.88 934.13l6.7 11.93h-13.4z"/>
<path d="M1120.64 921.91l6.7 11.93h-13.4z"/>
<path d="M1128.62 911.66l6.7 11.93h-13.4z"/>
<path d="M1139.28 897.37l6.7 11.93h-13.4z"/>
<path d="M1150.81 879.99l6.7 11.93h-13.4z"/>
<path d="M1160.58 864.83l6.7 11.93h-13.4z"/>
<path d="M1164.12 856.06l6.7 11.93h-13.4z"/>
<path d="M1168.56 844.92l6.7 11.93h-13.4z"/>
<path d="M1173 833.56l6.7 11.93h-13.4z"/>
<path d="M1176.55 824.32l6.7 11.93h-13.4z"/>
<path d="M1180.1 814.94l6.7 11.93h-13.4z"/>
<path d="M1181.88 810.2l6.7 11.93h-13.4z"/>
</g>
<text x="983" y="1259.3" font-size="28.5" font-weight="bold" text-anchor="middle" textLength="368" lengthAdjust="spacingAndGlyphs">Temperature Difference (K)</text>
<text x="687" y="1148" font-size="29.7" font-weight="bold" transform="rotate(-90 687 1148)" textLength="290" lengthAdjust="spacingAndGlyphs">Output Power <tspan font-weight="normal" font-size="25">(</tspan> mW <tspan font-weight="normal" font-size="25">)</tspan></text>
<polygon points="772,819.6 778.4,826 772,832.4 765.6,826" fill="#3a4cc0"/>
<path d="M772 848.5l6.7 11.9h-13.4z" fill="#c9650b"/>
<text x="798" y="832" font-size="24.6" font-weight="bold" textLength="314.5" lengthAdjust="spacingAndGlyphs">p-/n- composites PI w/o CF</text>
<text x="798" y="863.5" font-size="24.6" font-weight="bold" textLength="299" lengthAdjust="spacingAndGlyphs">p-/n- composites PI w/ CF</text>
<text x="643.5" y="811" font-size="64" textLength="37.5" lengthAdjust="spacingAndGlyphs">e</text>
</g>
<g id="p-f">
<g fill="none" stroke-width="3">
<path stroke="#000" d="M1377.75 795.5H1864.75 M1377.75 1187.5H1864.75"/>
<path stroke="#000" stroke-width="2.7" d="M1378.95 1187.5V1192.6M1423 1187.5V1196.6M1467.05 1187.5V1192.6M1511.1 1187.5V1196.6M1555.15 1187.5V1192.6M1599.2 1187.5V1196.6M1643.25 1187.5V1192.6M1687.3 1187.5V1196.6M1731.35 1187.5V1192.6M1775.4 1187.5V1196.6M1819.45 1187.5V1192.6M1863.5 1187.5V1196.6"/>
<path stroke="#c9650b" d="M1379.25 794V1189M1379.25 1187.38H1374.15M1379.25 1151.75H1370.15M1379.25 1116.12H1374.15M1379.25 1080.5H1370.15M1379.25 1044.88H1374.15M1379.25 1009.25H1370.15M1379.25 973.62H1374.15M1379.25 938H1370.15M1379.25 902.38H1374.15M1379.25 866.75H1370.15M1379.25 831.12H1374.15M1379.25 795.5H1370.15"/>
<path stroke="#3a4cc0" d="M1863.25 794V1189M1863.25 1187.38H1868.35M1863.25 1151.75H1872.35M1863.25 1116.12H1868.35M1863.25 1080.5H1872.35M1863.25 1044.88H1868.35M1863.25 1009.25H1872.35M1863.25 973.62H1868.35M1863.25 938H1872.35M1863.25 902.38H1868.35M1863.25 866.75H1872.35M1863.25 831.12H1868.35M1863.25 795.5H1872.35"/>
</g>
<g font-weight="bold" font-size="22.3">
<g text-anchor="end" fill="#c9650b">
<text x="1366.5" y="1157.95">0.0</text>
<text x="1366.5" y="1086.7">0.2</text>
<text x="1366.5" y="1015.45">0.4</text>
<text x="1366.5" y="944.2">0.6</text>
<text x="1366.5" y="872.95">0.8</text>
<text x="1366.5" y="801.7">1.0</text>
</g><g fill="#3a4cc0">
<text x="1876" y="1157.95">0.0</text>
<text x="1876" y="1086.7">0.5</text>
<text x="1876" y="1015.45">1.0</text>
<text x="1876" y="944.2">1.5</text>
<text x="1876" y="872.95">2.0</text>
<text x="1876" y="801.7">2.5</text>
</g><g text-anchor="middle" font-size="22.5">
<text x="1423" y="1218">0</text>
<text x="1511.1" y="1218">10</text>
<text x="1599.2" y="1218">20</text>
<text x="1687.3" y="1218">30</text>
<text x="1775.4" y="1218">40</text>
<text x="1863.5" y="1218">50</text>
</g></g>
<polyline points="1423,1156.03 1481.15,1149.7 1483.79,1149.5 1486.43,1149.3 1489.08,1149.08 1491.72,1148.86 1495.24,1148.55 1498.77,1148.22 1502.29,1147.88 1506.69,1147.43 1511.1,1146.96 1516.39,1146.42 1522.55,1145.76 1528.72,1145.05 1537.53,1143.98 1543.7,1143.19 1548.98,1142.48 1558.67,1141.08 1570.13,1139.3 1577.17,1138.13 1585.99,1136.59 1595.68,1134.81 1607.13,1132.57 1622.99,1129.31 1633.56,1126.99 1649.42,1123.29 1661.75,1120.61 1670.56,1118.61 1684.66,1115.29 1695.23,1112.35 1705.8,1109.17 1718.13,1105.3 1730.47,1101.27 1743.68,1096.66 1756.02,1092.16 1763.95,1089.18 1770.99,1086.47 1785.97,1080.52" fill="none" stroke="#3a4cc0" stroke-width="1.2" stroke-linejoin="round"/>
<g fill="#3a4cc0">
<rect x="1418.4" y="1147.15" width="9.2" height="9.2"/>
<rect x="1476.55" y="1145.1" width="9.2" height="9.2"/>
<rect x="1479.19" y="1144.9" width="9.2" height="9.2"/>
<rect x="1481.83" y="1144.7" width="9.2" height="9.2"/>
<rect x="1484.48" y="1144.48" width="9.2" height="9.2"/>
<rect x="1487.12" y="1144.26" width="9.2" height="9.2"/>
<rect x="1490.64" y="1143.95" width="9.2" height="9.2"/>
<rect x="1494.17" y="1143.62" width="9.2" height="9.2"/>
<rect x="1497.69" y="1143.28" width="9.2" height="9.2"/>
<rect x="1502.1" y="1142.83" width="9.2" height="9.2"/>
<rect x="1506.5" y="1142.36" width="9.2" height="9.2"/>
<rect x="1511.79" y="1141.82" width="9.2" height="9.2"/>
<rect x="1517.95" y="1141.16" width="9.2" height="9.2"/>
<rect x="1524.12" y="1140.45" width="9.2" height="9.2"/>
<rect x="1532.93" y="1139.38" width="9.2" height="9.2"/>
<rect x="1539.1" y="1138.59" width="9.2" height="9.2"/>
<rect x="1544.38" y="1137.88" width="9.2" height="9.2"/>
<rect x="1554.07" y="1136.48" width="9.2" height="9.2"/>
<rect x="1565.53" y="1134.7" width="9.2" height="9.2"/>
<rect x="1572.58" y="1133.53" width="9.2" height="9.2"/>
<rect x="1581.39" y="1131.99" width="9.2" height="9.2"/>
<rect x="1591.08" y="1130.21" width="9.2" height="9.2"/>
<rect x="1602.53" y="1127.97" width="9.2" height="9.2"/>
<rect x="1618.39" y="1124.71" width="9.2" height="9.2"/>
<rect x="1628.96" y="1122.39" width="9.2" height="9.2"/>
<rect x="1644.82" y="1118.69" width="9.2" height="9.2"/>
<rect x="1657.15" y="1116.01" width="9.2" height="9.2"/>
<rect x="1665.96" y="1114.01" width="9.2" height="9.2"/>
<rect x="1680.06" y="1110.69" width="9.2" height="9.2"/>
<rect x="1690.63" y="1107.75" width="9.2" height="9.2"/>
<rect x="1701.2" y="1104.57" width="9.2" height="9.2"/>
<rect x="1713.54" y="1100.7" width="9.2" height="9.2"/>
<rect x="1725.87" y="1096.67" width="9.2" height="9.2"/>
<rect x="1739.08" y="1092.06" width="9.2" height="9.2"/>
<rect x="1751.42" y="1087.56" width="9.2" height="9.2"/>
<rect x="1759.35" y="1084.58" width="9.2" height="9.2"/>
<rect x="1766.39" y="1081.87" width="9.2" height="9.2"/>
<rect x="1781.37" y="1075.92" width="9.2" height="9.2"/>
</g>
<polyline points="1423,1158.16 1479.38,1146.06 1482.03,1145.58 1484.67,1145.07 1487.31,1144.55 1489.96,1144.01 1493.48,1143.25 1497,1142.46 1500.53,1141.64 1504.93,1140.56 1509.34,1139.42 1514.62,1138.02 1521.67,1136.07 1528.72,1134 1537.53,1131.21 1550.74,1126.66 1560.44,1123.04 1568.37,1119.89 1579.82,1115.05 1585.1,1112.7 1595.68,1107.79 1608.01,1101.7 1625.63,1092.35 1636.2,1086.35 1652.06,1077.15 1662.63,1070.68 1671.44,1065.09 1683.78,1056.96 1697.87,1047.09 1707.56,1039.99 1718.13,1031.99 1732.23,1020.87 1748.97,1006.68 1758.66,998.13 1766.59,990.95 1777.16,980.95 1788.62,968.79 1798.31,958.18 1801.83,952.05 1806.24,944.25 1810.64,936.3 1814.16,929.83 1817.69,923.27 1819.45,919.96" fill="none" stroke="#3a4cc0" stroke-width="1.2" stroke-linejoin="round"/>
<g fill="#3a4cc0">
<path d="M1423 1144.91l6.4 11.39h-12.8z"/>
<path d="M1479.38 1139.23l6.4 11.39h-12.8z"/>
<path d="M1482.03 1138.74l6.4 11.39h-12.8z"/>
<path d="M1484.67 1138.24l6.4 11.39h-12.8z"/>
<path d="M1487.31 1137.72l6.4 11.39h-12.8z"/>
<path d="M1489.96 1137.17l6.4 11.39h-12.8z"/>
<path d="M1493.48 1136.42l6.4 11.39h-12.8z"/>
<path d="M1497 1135.63l6.4 11.39h-12.8z"/>
<path d="M1500.53 1134.8l6.4 11.39h-12.8z"/>
<path d="M1504.93 1133.72l6.4 11.39h-12.8z"/>
<path d="M1509.34 1132.59l6.4 11.39h-12.8z"/>
<path d="M1514.62 1131.19l6.4 11.39h-12.8z"/>
<path d="M1521.67 1129.24l6.4 11.39h-12.8z"/>
<path d="M1528.72 1127.16l6.4 11.39h-12.8z"/>
<path d="M1537.53 1124.38l6.4 11.39h-12.8z"/>
<path d="M1550.74 1119.83l6.4 11.39h-12.8z"/>
<path d="M1560.44 1116.2l6.4 11.39h-12.8z"/>
<path d="M1568.37 1113.05l6.4 11.39h-12.8z"/>
<path d="M1579.82 1108.21l6.4 11.39h-12.8z"/>
<path d="M1585.1 1105.87l6.4 11.39h-12.8z"/>
<path d="M1595.68 1100.95l6.4 11.39h-12.8z"/>
<path d="M1608.01 1094.87l6.4 11.39h-12.8z"/>
<path d="M1625.63 1085.51l6.4 11.39h-12.8z"/>
<path d="M1636.2 1079.51l6.4 11.39h-12.8z"/>
<path d="M1652.06 1070.31l6.4 11.39h-12.8z"/>
<path d="M1662.63 1063.85l6.4 11.39h-12.8z"/>
<path d="M1671.44 1058.26l6.4 11.39h-12.8z"/>
<path d="M1683.78 1050.12l6.4 11.39h-12.8z"/>
<path d="M1697.87 1040.25l6.4 11.39h-12.8z"/>
<path d="M1707.56 1033.16l6.4 11.39h-12.8z"/>
<path d="M1718.13 1025.15l6.4 11.39h-12.8z"/>
<path d="M1732.23 1014.03l6.4 11.39h-12.8z"/>
<path d="M1748.97 999.84l6.4 11.39h-12.8z"/>
<path d="M1758.66 991.29l6.4 11.39h-12.8z"/>
<path d="M1766.59 984.11l6.4 11.39h-12.8z"/>
<path d="M1777.16 974.12l6.4 11.39h-12.8z"/>
<path d="M1788.62 961.96l6.4 11.39h-12.8z"/>
<path d="M1798.31 951.34l6.4 11.39h-12.8z"/>
<path d="M1801.83 945.21l6.4 11.39h-12.8z"/>
<path d="M1806.24 937.41l6.4 11.39h-12.8z"/>
<path d="M1810.64 929.47l6.4 11.39h-12.8z"/>
<path d="M1814.16 923l6.4 11.39h-12.8z"/>
<path d="M1817.69 916.44l6.4 11.39h-12.8z"/>
<path d="M1819.45 913.12l6.4 11.39h-12.8z"/>
</g>
<polyline points="1423,1155.31 1481.15,1148.85 1483.79,1148.58 1486.43,1148.29 1489.08,1147.99 1491.72,1147.67 1495.24,1147.24 1498.77,1146.78 1502.29,1146.29 1506.69,1145.66 1511.1,1144.99 1516.39,1144.23 1522.55,1143.3 1528.72,1142.31 1537.53,1140.8 1543.7,1139.67 1548.98,1138.67 1558.67,1136.71 1570.13,1134.19 1577.17,1132.54 1585.99,1130.37 1595.68,1127.86 1607.13,1124.7 1622.99,1120.1 1633.56,1116.82 1649.42,1111.61 1661.75,1107.82 1670.56,1105.01 1684.66,1100.33 1695.23,1096.17 1705.8,1091.69 1718.13,1086.24 1730.47,1080.54 1743.68,1074.04 1756.02,1067.71 1763.95,1063.5 1770.99,1059.68 1785.97,1051.29" fill="none" stroke="#c9650b" stroke-width="1.2" stroke-linejoin="round"/>
<g fill="#c9650b">
<path d="M1423 1145.45l6.3 6.3l-6.3 6.3l-6.3 -6.3z"/>
<path d="M1481.15 1142.55l6.3 6.3l-6.3 6.3l-6.3 -6.3z"/>
<path d="M1483.79 1142.28l6.3 6.3l-6.3 6.3l-6.3 -6.3z"/>
<path d="M1486.43 1141.99l6.3 6.3l-6.3 6.3l-6.3 -6.3z"/>
<path d="M1489.08 1141.69l6.3 6.3l-6.3 6.3l-6.3 -6.3z"/>
<path d="M1491.72 1141.37l6.3 6.3l-6.3 6.3l-6.3 -6.3z"/>
<path d="M1495.24 1140.94l6.3 6.3l-6.3 6.3l-6.3 -6.3z"/>
<path d="M1498.77 1140.48l6.3 6.3l-6.3 6.3l-6.3 -6.3z"/>
<path d="M1502.29 1139.99l6.3 6.3l-6.3 6.3l-6.3 -6.3z"/>
<path d="M1506.69 1139.36l6.3 6.3l-6.3 6.3l-6.3 -6.3z"/>
<path d="M1511.1 1138.69l6.3 6.3l-6.3 6.3l-6.3 -6.3z"/>
<path d="M1516.39 1137.93l6.3 6.3l-6.3 6.3l-6.3 -6.3z"/>
<path d="M1522.55 1137l6.3 6.3l-6.3 6.3l-6.3 -6.3z"/>
<path d="M1528.72 1136.01l6.3 6.3l-6.3 6.3l-6.3 -6.3z"/>
<path d="M1537.53 1134.5l6.3 6.3l-6.3 6.3l-6.3 -6.3z"/>
<path d="M1543.7 1133.37l6.3 6.3l-6.3 6.3l-6.3 -6.3z"/>
<path d="M1548.98 1132.37l6.3 6.3l-6.3 6.3l-6.3 -6.3z"/>
<path d="M1558.67 1130.41l6.3 6.3l-6.3 6.3l-6.3 -6.3z"/>
<path d="M1570.13 1127.89l6.3 6.3l-6.3 6.3l-6.3 -6.3z"/>
<path d="M1577.17 1126.24l6.3 6.3l-6.3 6.3l-6.3 -6.3z"/>
<path d="M1585.99 1124.07l6.3 6.3l-6.3 6.3l-6.3 -6.3z"/>
<path d="M1595.68 1121.56l6.3 6.3l-6.3 6.3l-6.3 -6.3z"/>
<path d="M1607.13 1118.4l6.3 6.3l-6.3 6.3l-6.3 -6.3z"/>
<path d="M1622.99 1113.8l6.3 6.3l-6.3 6.3l-6.3 -6.3z"/>
<path d="M1633.56 1110.52l6.3 6.3l-6.3 6.3l-6.3 -6.3z"/>
<path d="M1649.42 1105.31l6.3 6.3l-6.3 6.3l-6.3 -6.3z"/>
<path d="M1661.75 1101.52l6.3 6.3l-6.3 6.3l-6.3 -6.3z"/>
<path d="M1670.56 1098.71l6.3 6.3l-6.3 6.3l-6.3 -6.3z"/>
<path d="M1684.66 1094.03l6.3 6.3l-6.3 6.3l-6.3 -6.3z"/>
<path d="M1695.23 1089.87l6.3 6.3l-6.3 6.3l-6.3 -6.3z"/>
<path d="M1705.8 1085.39l6.3 6.3l-6.3 6.3l-6.3 -6.3z"/>
<path d="M1718.13 1079.94l6.3 6.3l-6.3 6.3l-6.3 -6.3z"/>
<path d="M1730.47 1074.24l6.3 6.3l-6.3 6.3l-6.3 -6.3z"/>
<path d="M1743.68 1067.74l6.3 6.3l-6.3 6.3l-6.3 -6.3z"/>
<path d="M1756.02 1061.41l6.3 6.3l-6.3 6.3l-6.3 -6.3z"/>
<path d="M1763.95 1057.2l6.3 6.3l-6.3 6.3l-6.3 -6.3z"/>
<path d="M1770.99 1053.38l6.3 6.3l-6.3 6.3l-6.3 -6.3z"/>
<path d="M1785.97 1044.99l6.3 6.3l-6.3 6.3l-6.3 -6.3z"/>
</g>
<polyline points="1423,1160.66 1479.38,1143.79 1482.03,1143.12 1484.67,1142.41 1487.31,1141.68 1489.96,1140.92 1493.48,1139.86 1497,1138.76 1500.53,1137.61 1504.93,1136.09 1509.34,1134.51 1514.62,1132.55 1521.67,1129.83 1528.72,1126.92 1537.53,1123.03 1550.74,1116.66 1560.44,1111.59 1568.37,1107.19 1579.82,1100.42 1585.1,1097.14 1595.68,1090.26 1608.01,1081.76 1625.63,1068.67 1636.2,1060.28 1652.06,1047.41 1662.63,1038.37 1671.44,1030.55 1683.78,1019.17 1697.87,1005.37 1707.56,995.45 1718.13,984.25 1732.23,968.7 1748.97,948.85 1758.66,936.89 1766.59,926.85 1777.16,912.87 1788.62,895.87 1798.31,881.02 1801.83,872.45 1806.24,861.54 1810.64,850.42 1814.16,841.38 1817.69,832.2 1819.45,827.56" fill="none" stroke="#c9650b" stroke-width="1.2" stroke-linejoin="round"/>
<g fill="#c9650b">
<path d="M1423 1144.91l6.4 11.39h-12.8z"/>
<path d="M1479.38 1136.96l6.4 11.39h-12.8z"/>
<path d="M1482.03 1136.28l6.4 11.39h-12.8z"/>
<path d="M1484.67 1135.58l6.4 11.39h-12.8z"/>
<path d="M1487.31 1134.85l6.4 11.39h-12.8z"/>
<path d="M1489.96 1134.09l6.4 11.39h-12.8z"/>
<path d="M1493.48 1133.03l6.4 11.39h-12.8z"/>
<path d="M1497 1131.92l6.4 11.39h-12.8z"/>
<path d="M1500.53 1130.77l6.4 11.39h-12.8z"/>
<path d="M1504.93 1129.26l6.4 11.39h-12.8z"/>
<path d="M1509.34 1127.67l6.4 11.39h-12.8z"/>
<path d="M1514.62 1125.72l6.4 11.39h-12.8z"/>
<path d="M1521.67 1122.99l6.4 11.39h-12.8z"/>
<path d="M1528.72 1120.08l6.4 11.39h-12.8z"/>
<path d="M1537.53 1116.19l6.4 11.39h-12.8z"/>
<path d="M1550.74 1109.83l6.4 11.39h-12.8z"/>
<path d="M1560.44 1104.76l6.4 11.39h-12.8z"/>
<path d="M1568.37 1100.35l6.4 11.39h-12.8z"/>
<path d="M1579.82 1093.59l6.4 11.39h-12.8z"/>
<path d="M1585.1 1090.3l6.4 11.39h-12.8z"/>
<path d="M1595.68 1083.43l6.4 11.39h-12.8z"/>
<path d="M1608.01 1074.92l6.4 11.39h-12.8z"/>
<path d="M1625.63 1061.83l6.4 11.39h-12.8z"/>
<path d="M1636.2 1053.44l6.4 11.39h-12.8z"/>
<path d="M1652.06 1040.57l6.4 11.39h-12.8z"/>
<path d="M1662.63 1031.54l6.4 11.39h-12.8z"/>
<path d="M1671.44 1023.72l6.4 11.39h-12.8z"/>
<path d="M1683.78 1012.34l6.4 11.39h-12.8z"/>
<path d="M1697.87 998.54l6.4 11.39h-12.8z"/>
<path d="M1707.56 988.61l6.4 11.39h-12.8z"/>
<path d="M1718.13 977.42l6.4 11.39h-12.8z"/>
<path d="M1732.23 961.86l6.4 11.39h-12.8z"/>
<path d="M1748.97 942.01l6.4 11.39h-12.8z"/>
<path d="M1758.66 930.06l6.4 11.39h-12.8z"/>
<path d="M1766.59 920.02l6.4 11.39h-12.8z"/>
<path d="M1777.16 906.03l6.4 11.39h-12.8z"/>
<path d="M1788.62 889.03l6.4 11.39h-12.8z"/>
<path d="M1798.31 874.19l6.4 11.39h-12.8z"/>
<path d="M1801.83 865.61l6.4 11.39h-12.8z"/>
<path d="M1806.24 854.7l6.4 11.39h-12.8z"/>
<path d="M1810.64 843.59l6.4 11.39h-12.8z"/>
<path d="M1814.16 834.54l6.4 11.39h-12.8z"/>
<path d="M1817.69 825.37l6.4 11.39h-12.8z"/>
<path d="M1819.45 820.73l6.4 11.39h-12.8z"/>
</g>
<text x="1622.3" y="1262.5" font-size="28.5" font-weight="bold" text-anchor="middle" textLength="367" lengthAdjust="spacingAndGlyphs">Temperature Difference (K)</text>
<text x="1316.7" y="1187" font-size="29.5" font-weight="bold" fill="#c9650b" transform="rotate(-90 1316.7 1187)" textLength="347.5" lengthAdjust="spacingAndGlyphs">Power Density (mW cm<tspan font-size="17" dy="-13">-2</tspan><tspan dy="13">)</tspan></text>
<text x="1943.3" y="1188.8" font-size="29.5" font-weight="bold" fill="#3a4cc0" transform="rotate(-90 1943.3 1188.8)" textLength="370" lengthAdjust="spacingAndGlyphs">Power per Weight (mW g<tspan font-size="17" dy="-13">-1</tspan><tspan dy="13">)</tspan></text>
<rect x="1401.4" y="832.9" width="9.2" height="9.2" fill="#3a4cc0"/>
<path d="M1406 860.5l6.4 11.4h-12.8z" fill="#3a4cc0"/>
<polygon points="1406,891.2 1412.3,897.5 1406,903.8 1399.7,897.5" fill="#c9650b"/>
<path d="M1406 920.5l6.4 11.4h-12.8z" fill="#c9650b"/>
<g font-weight="bold" font-size="24">
<text x="1424" y="841.3" textLength="306" lengthAdjust="spacingAndGlyphs">p-/n- composites PI w/o CF</text>
<text x="1428" y="870.8" textLength="290.5" lengthAdjust="spacingAndGlyphs">p-/n- composites PI w/ CF</text>
<text x="1428" y="901.2" textLength="306" lengthAdjust="spacingAndGlyphs">p-/n- composites PI w/o CF</text>
<text x="1428" y="931.2" textLength="290.5" lengthAdjust="spacingAndGlyphs">p-/n- composites PI w/ CF</text>
</g>
<text x="1259.5" y="812.5" font-size="64" textLength="19.5" lengthAdjust="spacingAndGlyphs">f</text>
</g>
<g id="p-i">
<g fill="none" stroke="#000" stroke-width="3.6">
<path d="M191 1962.5H933.3V2447.5H191Z"/>
<path stroke-width="3.1" d="M191 1971.75H180.7M191 1980.66H185M191 1989.71H180.7M191 1998.91H185M191 2008.27H180.7M191 2017.78H185M191 2027.45H180.7M191 2037.29H185M191 2047.3H180.7M191 2057.5H185M191 2067.88H180.7M191 2078.45H185M191 2089.23H180.7M191 2100.22H185M191 2111.42H180.7M191 2122.85H185M191 2134.52H180.7M191 2146.43H185M191 2158.6H180.7M191 2171.04H185M191 2183.75H180.7M191 2196.76H185M191 2210.07H180.7M191 2223.71H185M191 2237.68H180.7M191 2252H185M191 2266.7H180.7M191 2281.79H185M191 2297.29H180.7M191 2313.23H185M191 2329.63H180.7M191 2346.52H185M191 2363.93H180.7M191 2381.9H185M191 2400.45H180.7M191 2437.5H185M191 2447.5H180.7M191 2447.5V2457.8M217.7 2447.5V2453.5M244.4 2447.5V2457.8M271.1 2447.5V2453.5M297.8 2447.5V2457.8M324.5 2447.5V2453.5M351.2 2447.5V2457.8M377.9 2447.5V2453.5M404.6 2447.5V2457.8M431.3 2447.5V2453.5M458 2447.5V2457.8M484.7 2447.5V2453.5M511.4 2447.5V2457.8M538.1 2447.5V2453.5M564.8 2447.5V2457.8M591.5 2447.5V2453.5M618.2 2447.5V2457.8M644.9 2447.5V2453.5M671.6 2447.5V2457.8M698.3 2447.5V2453.5M725 2447.5V2457.8M751.7 2447.5V2453.5M791.5 2447.5V2457.8M838.7 2447.5V2453.5M885.8 2447.5V2457.8M933.3 2447.5V2457.8"/>
</g>
<polyline points="201.68,2192.83 217.7,2076.32 244.4,2033.33 458,1997.99 725,1994.29 778.8,1992.76" fill="none" stroke="#3a48b8" stroke-width="1.6" stroke-linejoin="round"/>
<polyline points="791.3,1992.41 885.8,1989.71" fill="none" stroke="#3a48b8" stroke-width="1.6"/>
<rect x="194.88" y="2186.03" width="13.6" height="13.6" fill="#3a48b8" stroke="#fff" stroke-width="2.4" paint-order="stroke"/>
<rect x="210.9" y="2069.52" width="13.6" height="13.6" fill="#3a48b8" stroke="#fff" stroke-width="2.4" paint-order="stroke"/>
<rect x="237.6" y="2026.53" width="13.6" height="13.6" fill="#3a48b8" stroke="#fff" stroke-width="2.4" paint-order="stroke"/>
<rect x="451.2" y="1991.19" width="13.6" height="13.6" fill="#3a48b8" stroke="#fff" stroke-width="2.4" paint-order="stroke"/>
<rect x="718.2" y="1987.49" width="13.6" height="13.6" fill="#3a48b8" stroke="#fff" stroke-width="2.4" paint-order="stroke"/>
<rect x="879" y="1982.91" width="13.6" height="13.6" fill="#3a48b8" stroke="#fff" stroke-width="2.4" paint-order="stroke"/>
<polyline points="201.68,2219.58 217.7,2103.56 244.4,2060.59 458,2025.5 725,2021.62 778.8,2020.02" fill="none" stroke="#12335e" stroke-width="1.6" stroke-linejoin="round"/>
<polyline points="791.3,2019.64 885.8,2016.82" fill="none" stroke="#12335e" stroke-width="1.6"/>
<circle cx="201.68" cy="2219.58" r="7.5" fill="#12335e" stroke="#fff" stroke-width="2.4" paint-order="stroke"/>
<circle cx="217.7" cy="2103.56" r="7.5" fill="#12335e" stroke="#fff" stroke-width="2.4" paint-order="stroke"/>
<circle cx="244.4" cy="2060.59" r="7.5" fill="#12335e" stroke="#fff" stroke-width="2.4" paint-order="stroke"/>
<circle cx="458" cy="2025.5" r="7.5" fill="#12335e" stroke="#fff" stroke-width="2.4" paint-order="stroke"/>
<circle cx="725" cy="2021.62" r="7.5" fill="#12335e" stroke="#fff" stroke-width="2.4" paint-order="stroke"/>
<circle cx="885.8" cy="2016.82" r="7.5" fill="#12335e" stroke="#fff" stroke-width="2.4" paint-order="stroke"/>
<polyline points="201.68,2247.67 217.7,2131 244.4,2088.15 458,2053.4 725,2049.33 778.8,2047.64" fill="none" stroke="#1e5a9e" stroke-width="1.6" stroke-linejoin="round"/>
<polyline points="791.3,2047.25 885.8,2044.28" fill="none" stroke="#1e5a9e" stroke-width="1.6"/>
<polygon points="201.68,2240.32 208.88,2252.56 194.48,2252.56" fill="#1e5a9e" stroke="#fff" stroke-width="2.4" paint-order="stroke"/>
<polygon points="217.7,2123.65 224.9,2135.89 210.5,2135.89" fill="#1e5a9e" stroke="#fff" stroke-width="2.4" paint-order="stroke"/>
<polygon points="244.4,2080.8 251.6,2093.04 237.2,2093.04" fill="#1e5a9e" stroke="#fff" stroke-width="2.4" paint-order="stroke"/>
<polygon points="458,2046.05 465.2,2058.29 450.8,2058.29" fill="#1e5a9e" stroke="#fff" stroke-width="2.4" paint-order="stroke"/>
<polygon points="725,2041.98 732.2,2054.22 717.8,2054.22" fill="#1e5a9e" stroke="#fff" stroke-width="2.4" paint-order="stroke"/>
<polygon points="885.8,2036.94 893,2049.18 878.6,2049.18" fill="#1e5a9e" stroke="#fff" stroke-width="2.4" paint-order="stroke"/>
<polyline points="201.68,2275.7 217.7,2159.83 244.4,2117.11 458,2082.74 725,2077.39 778.8,2076.32" fill="none" stroke="#cc6608" stroke-width="1.6" stroke-linejoin="round"/>
<polyline points="791.3,2076.07 885.8,2074.2" fill="none" stroke="#cc6608" stroke-width="1.6"/>
<polygon points="201.68,2284.92 209.98,2269.56 193.38,2269.56" fill="#cc6608" stroke="#fff" stroke-width="2.4" paint-order="stroke"/>
<polygon points="217.7,2169.05 226,2153.69 209.4,2153.69" fill="#cc6608" stroke="#fff" stroke-width="2.4" paint-order="stroke"/>
<polygon points="244.4,2126.32 252.7,2110.97 236.1,2110.97" fill="#cc6608" stroke="#fff" stroke-width="2.4" paint-order="stroke"/>
<polygon points="458,2091.95 466.3,2076.6 449.7,2076.6" fill="#cc6608" stroke="#fff" stroke-width="2.4" paint-order="stroke"/>
<polygon points="725,2086.6 733.3,2071.25 716.7,2071.25" fill="#cc6608" stroke="#fff" stroke-width="2.4" paint-order="stroke"/>
<polygon points="885.8,2083.41 894.1,2068.06 877.5,2068.06" fill="#cc6608" stroke="#fff" stroke-width="2.4" paint-order="stroke"/>
<polyline points="201.68,2305.2 217.7,2188.92 244.4,2146.43 458,2111.42 725,2106.92 778.8,2105.42" fill="none" stroke="#803c02" stroke-width="1.6" stroke-linejoin="round"/>
<polyline points="791.3,2105.07 885.8,2102.44" fill="none" stroke="#803c02" stroke-width="1.6"/>
<polygon points="201.68,2295.7 211.18,2305.2 201.68,2314.7 192.18,2305.2" fill="#803c02" stroke="#fff" stroke-width="2.4" paint-order="stroke"/>
<polygon points="217.7,2179.42 227.2,2188.92 217.7,2198.42 208.2,2188.92" fill="#803c02" stroke="#fff" stroke-width="2.4" paint-order="stroke"/>
<polygon points="244.4,2136.93 253.9,2146.43 244.4,2155.93 234.9,2146.43" fill="#803c02" stroke="#fff" stroke-width="2.4" paint-order="stroke"/>
<polygon points="458,2101.92 467.5,2111.42 458,2120.92 448.5,2111.42" fill="#803c02" stroke="#fff" stroke-width="2.4" paint-order="stroke"/>
<polygon points="725,2097.42 734.5,2106.92 725,2116.42 715.5,2106.92" fill="#803c02" stroke="#fff" stroke-width="2.4" paint-order="stroke"/>
<polygon points="885.8,2092.94 895.3,2102.44 885.8,2111.94 876.3,2102.44" fill="#803c02" stroke="#fff" stroke-width="2.4" paint-order="stroke"/>
<polyline points="201.68,2334.65 217.7,2219.58 244.4,2176.09 458,2141.64 725,2139.26 778.8,2137.28" fill="none" stroke="#5e3a17" stroke-width="1.6" stroke-linejoin="round"/>
<polyline points="791.3,2136.82 885.8,2133.34" fill="none" stroke="#5e3a17" stroke-width="1.6"/>
<polygon points="193.22,2334.65 207.32,2325.95 207.32,2343.35" fill="#5e3a17" stroke="#fff" stroke-width="2.4" paint-order="stroke"/>
<polygon points="209.24,2219.58 223.34,2210.88 223.34,2228.28" fill="#5e3a17" stroke="#fff" stroke-width="2.4" paint-order="stroke"/>
<polygon points="235.94,2176.09 250.04,2167.39 250.04,2184.79" fill="#5e3a17" stroke="#fff" stroke-width="2.4" paint-order="stroke"/>
<polygon points="449.54,2141.64 463.64,2132.94 463.64,2150.34" fill="#5e3a17" stroke="#fff" stroke-width="2.4" paint-order="stroke"/>
<polygon points="716.54,2139.26 730.64,2130.56 730.64,2147.96" fill="#5e3a17" stroke="#fff" stroke-width="2.4" paint-order="stroke"/>
<polygon points="877.34,2133.34 891.44,2124.64 891.44,2142.04" fill="#5e3a17" stroke="#fff" stroke-width="2.4" paint-order="stroke"/>
<polyline points="201.68,2367.48 217.7,2250.55 244.4,2207.38 458,2172.3 725,2168.53 778.8,2166.86" fill="none" stroke="#6b5a16" stroke-width="1.6" stroke-linejoin="round"/>
<polyline points="791.3,2166.47 885.8,2163.54" fill="none" stroke="#6b5a16" stroke-width="1.6"/>
<polygon points="210.14,2367.48 196.04,2358.78 196.04,2376.18" fill="#6b5a16" stroke="#fff" stroke-width="2.4" paint-order="stroke"/>
<polygon points="226.16,2250.55 212.06,2241.85 212.06,2259.25" fill="#6b5a16" stroke="#fff" stroke-width="2.4" paint-order="stroke"/>
<polygon points="252.86,2207.38 238.76,2198.68 238.76,2216.08" fill="#6b5a16" stroke="#fff" stroke-width="2.4" paint-order="stroke"/>
<polygon points="466.46,2172.3 452.36,2163.6 452.36,2181" fill="#6b5a16" stroke="#fff" stroke-width="2.4" paint-order="stroke"/>
<polygon points="733.46,2168.53 719.36,2159.83 719.36,2177.23" fill="#6b5a16" stroke="#fff" stroke-width="2.4" paint-order="stroke"/>
<polygon points="894.26,2163.54 880.16,2154.84 880.16,2172.24" fill="#6b5a16" stroke="#fff" stroke-width="2.4" paint-order="stroke"/>
<rect x="777" y="1956.5" width="15" height="12" fill="#fff"/><rect x="777" y="2441.5" width="15" height="12" fill="#fff"/>
<rect x="185" y="2417" width="12" height="14" fill="#fff"/><rect x="927.3" y="2417" width="12" height="14" fill="#fff"/>
<g stroke="#000" stroke-width="3.4" stroke-linecap="round">
<line x1="771.3" y1="1972.95" x2="785.1" y2="1953.65"/><line x1="784.3" y1="1972.95" x2="798.1" y2="1953.65"/>
<line x1="771.3" y1="2457.15" x2="785.1" y2="2437.85"/><line x1="784.3" y1="2457.15" x2="798.1" y2="2437.85"/>
<line x1="181.1" y1="2423.95" x2="201.3" y2="2414.85"/><line x1="181.1" y1="2432.55" x2="201.3" y2="2423.45"/>
<line x1="923.2" y1="2423.95" x2="943.4" y2="2414.85"/><line x1="923.2" y1="2432.55" x2="943.4" y2="2423.45"/>
</g>
<line x1="190" y1="2150.8" x2="933" y2="2150.8" stroke="#19b5cd" stroke-width="4.2" stroke-dasharray="12.5 5.2"/>
<g font-weight="bold" font-size="19">
<g text-anchor="end">
<text x="176" y="1976.85">0.64</text>
<text x="176" y="1994.81">0.62</text>
<text x="176" y="2013.37">0.60</text>
<text x="176" y="2032.55">0.58</text>
<text x="176" y="2052.4">0.56</text>
<text x="176" y="2072.98">0.54</text>
<text x="176" y="2094.33">0.52</text>
<text x="176" y="2116.52">0.50</text>
<text x="176" y="2139.62">0.48</text>
<text x="176" y="2163.7">0.46</text>
<text x="176" y="2188.85">0.44</text>
<text x="176" y="2215.17">0.42</text>
<text x="176" y="2242.78">0.40</text>
<text x="176" y="2271.8">0.38</text>
<text x="176" y="2302.39">0.36</text>
<text x="176" y="2334.73">0.34</text>
<text x="176" y="2369.03">0.32</text>
<text x="176" y="2405.55">0.30</text>
<text x="176" y="2452.6">0.00</text>
</g>
<text x="193" y="2487" text-anchor="middle">0</text>
<text x="219.6" y="2487">1X10<tspan font-size="12.54" dy="-9.88" font-style="italic">4</tspan></text>
<text x="274.75" y="2487">2X10<tspan font-size="12.54" dy="-9.88" font-style="italic">4</tspan></text>
<text x="329.9" y="2487">3X10<tspan font-size="12.54" dy="-9.88" font-style="italic">4</tspan></text>
<text x="385.05" y="2487">4X10<tspan font-size="12.54" dy="-9.88" font-style="italic">4</tspan></text>
<text x="440.2" y="2487">5X10<tspan font-size="12.54" dy="-9.88" font-style="italic">4</tspan></text>
<text x="495.35" y="2487">6X10<tspan font-size="12.54" dy="-9.88" font-style="italic">4</tspan></text>
<text x="550.5" y="2487">7X10<tspan font-size="12.54" dy="-9.88" font-style="italic">4</tspan></text>
<text x="605.65" y="2487">8X10<tspan font-size="12.54" dy="-9.88" font-style="italic">4</tspan></text>
<text x="660.8" y="2487">9X10<tspan font-size="12.54" dy="-9.88" font-style="italic">4</tspan></text>
<text x="715.95" y="2487">1X10<tspan font-size="12.54" dy="-9.88" font-style="italic">5</tspan></text>
</g>
<text transform="translate(875.1 2491.2) scale(1.42 0.93)" font-family='"DejaVu Sans", sans-serif' font-size="38">∝</text>
<text x="332.6" y="2531.8" font-size="31" font-weight="bold" textLength="460" lengthAdjust="spacingAndGlyphs">Thermal conductance (Wm<tspan font-size="18.5" dy="-13.5">-2</tspan><tspan dy="13.5">K</tspan><tspan font-size="18.5" dy="-13.5">-1</tspan><tspan dy="13.5">)</tspan></text>
<text x="121.5" y="2333.5" font-size="36.3" font-weight="bold" transform="rotate(-90 121.5 2333.5)" textLength="210" lengthAdjust="spacingAndGlyphs">Power (mW)</text>
<line x1="658" y1="2220.5" x2="703.8" y2="2220.5" stroke="#3a48b8" stroke-width="1.6"/>
<rect x="674" y="2213.7" width="13.6" height="13.6" fill="#3a48b8" stroke="#fff" stroke-width="2.4" paint-order="stroke"/>
<text x="709" y="2227.7" font-size="22.7" font-weight="bold"><tspan font-family='"Liberation Serif", serif' font-weight="normal" font-size="19">Δ</tspan>T = 42K</text>
<line x1="658" y1="2250.45" x2="703.8" y2="2250.45" stroke="#12335e" stroke-width="1.6"/>
<circle cx="680.8" cy="2250.45" r="7.5" fill="#12335e" stroke="#fff" stroke-width="2.4" paint-order="stroke"/>
<text x="709" y="2257.65" font-size="22.7" font-weight="bold"><tspan font-family='"Liberation Serif", serif' font-weight="normal" font-size="19">Δ</tspan>T = 41K</text>
<line x1="658" y1="2280.4" x2="703.8" y2="2280.4" stroke="#1e5a9e" stroke-width="1.6"/>
<polygon points="680.8,2273.06 688,2285.3 673.6,2285.3" fill="#1e5a9e" stroke="#fff" stroke-width="2.4" paint-order="stroke"/>
<text x="709" y="2287.6" font-size="22.7" font-weight="bold"><tspan font-family='"Liberation Serif", serif' font-weight="normal" font-size="19">Δ</tspan>T = 40K</text>
<line x1="658" y1="2310.35" x2="703.8" y2="2310.35" stroke="#cc6608" stroke-width="1.6"/>
<polygon points="680.8,2319.56 689.1,2304.21 672.5,2304.21" fill="#cc6608" stroke="#fff" stroke-width="2.4" paint-order="stroke"/>
<text x="709" y="2317.55" font-size="22.7" font-weight="bold"><tspan font-family='"Liberation Serif", serif' font-weight="normal" font-size="19">Δ</tspan>T = 39K</text>
<line x1="658" y1="2340.3" x2="703.8" y2="2340.3" stroke="#803c02" stroke-width="1.6"/>
<polygon points="680.8,2330.8 690.3,2340.3 680.8,2349.8 671.3,2340.3" fill="#803c02" stroke="#fff" stroke-width="2.4" paint-order="stroke"/>
<text x="709" y="2347.5" font-size="22.7" font-weight="bold"><tspan font-family='"Liberation Serif", serif' font-weight="normal" font-size="19">Δ</tspan>T = 38K</text>
<line x1="658" y1="2370.25" x2="703.8" y2="2370.25" stroke="#5e3a17" stroke-width="1.6"/>
<polygon points="672.34,2370.25 686.44,2361.55 686.44,2378.95" fill="#5e3a17" stroke="#fff" stroke-width="2.4" paint-order="stroke"/>
<text x="709" y="2377.45" font-size="22.7" font-weight="bold"><tspan font-family='"Liberation Serif", serif' font-weight="normal" font-size="19">Δ</tspan>T = 37K</text>
<line x1="658" y1="2400.2" x2="703.8" y2="2400.2" stroke="#6b5a16" stroke-width="1.6"/>
<polygon points="689.26,2400.2 675.16,2391.5 675.16,2408.9" fill="#6b5a16" stroke="#fff" stroke-width="2.4" paint-order="stroke"/>
<text x="709" y="2407.4" font-size="22.7" font-weight="bold"><tspan font-family='"Liberation Serif", serif' font-weight="normal" font-size="19">Δ</tspan>T = 36K</text>
<polygon points="909.5,2175.5 905.5,2200.5 898,2195.5 882.3,2220 877.8,2217 893.5,2192.5 886,2187.5" fill="#19b5cd"/>
<text x="826" y="2250.5" font-size="30.5" font-weight="bold" fill="#19b5cd">0.463</text>
<text x="35" y="1949.3" font-size="64" textLength="15" lengthAdjust="spacingAndGlyphs">i</text>
</g>
<g id="p-j">
<g fill="none" stroke="#000" stroke-width="3.6">
<path d="M1124.5 1971.5H1864.5V2444.8H1124.5Z"/>
<path stroke-width="3.1" d="M1124.5 1995.5H1114.2M1124.5 2020.3H1118.5M1124.5 2045.1H1114.2M1124.5 2069.9H1118.5M1124.5 2094.7H1114.2M1124.5 2119.5H1118.5M1124.5 2144.3H1114.2M1124.5 2169.1H1118.5M1124.5 2193.9H1114.2M1124.5 2218.7H1118.5M1124.5 2243.5H1114.2M1124.5 2268.3H1118.5M1124.5 2293.1H1114.2M1124.5 2317.9H1118.5M1124.5 2342.7H1114.2M1124.5 2367.5H1118.5M1124.5 2392.3H1114.2M1124.5 2421H1118.5M1124.5 2444.8H1114.2M1124.3 2444.8V2455.1M1173.05 2444.8V2450.8M1221.8 2444.8V2455.1M1270.55 2444.8V2450.8M1319.3 2444.8V2455.1M1368.05 2444.8V2450.8M1416.8 2444.8V2455.1M1465.55 2444.8V2450.8M1514.3 2444.8V2455.1M1563.05 2444.8V2450.8M1611.8 2444.8V2455.1M1660.55 2444.8V2450.8M1762 2444.8V2450.8M1812.8 2444.8V2455.1M1864.5 2444.8V2455.1"/>
</g>
<polyline points="1134.05,2196.38 1148.67,2094.7 1173.05,2052.54 1368.05,2015.34 1611.8,2010.38 1710,2007.96" fill="none" stroke="#12335e" stroke-width="2.5" stroke-linejoin="round"/>
<polyline points="1723.3,2007.63 1812.8,2005.42" fill="none" stroke="#12335e" stroke-width="2.5"/>
<rect x="1128.85" y="2191.18" width="10.4" height="10.4" fill="#fff" stroke="#12335e" stroke-width="2.5"/>
<rect x="1143.47" y="2089.5" width="10.4" height="10.4" fill="#fff" stroke="#12335e" stroke-width="2.5"/>
<rect x="1167.85" y="2047.34" width="10.4" height="10.4" fill="#fff" stroke="#12335e" stroke-width="2.5"/>
<rect x="1362.85" y="2010.14" width="10.4" height="10.4" fill="#fff" stroke="#12335e" stroke-width="2.5"/>
<rect x="1606.6" y="2005.18" width="10.4" height="10.4" fill="#fff" stroke="#12335e" stroke-width="2.5"/>
<rect x="1807.6" y="2000.22" width="10.4" height="10.4" fill="#fff" stroke="#12335e" stroke-width="2.5"/>
<polyline points="1134.05,2228.62 1148.67,2134.38 1173.05,2094.7 1368.05,2059.98 1611.8,2055.02 1710,2052.6" fill="none" stroke="#3a48c0" stroke-width="2.5" stroke-linejoin="round"/>
<polyline points="1723.3,2052.27 1812.8,2050.06" fill="none" stroke="#3a48c0" stroke-width="2.5"/>
<circle cx="1134.05" cy="2228.62" r="6.1" fill="#fff" stroke="#3a48c0" stroke-width="2.5"/>
<circle cx="1148.67" cy="2134.38" r="6.1" fill="#fff" stroke="#3a48c0" stroke-width="2.5"/>
<circle cx="1173.05" cy="2094.7" r="6.1" fill="#fff" stroke="#3a48c0" stroke-width="2.5"/>
<circle cx="1368.05" cy="2059.98" r="6.1" fill="#fff" stroke="#3a48c0" stroke-width="2.5"/>
<circle cx="1611.8" cy="2055.02" r="6.1" fill="#fff" stroke="#3a48c0" stroke-width="2.5"/>
<circle cx="1812.8" cy="2050.06" r="6.1" fill="#fff" stroke="#3a48c0" stroke-width="2.5"/>
<polyline points="1134.05,2258.38 1148.67,2171.58 1173.05,2136.86 1368.05,2104.62 1611.8,2099.66 1710,2097.24" fill="none" stroke="#1e5a9e" stroke-width="2.5" stroke-linejoin="round"/>
<polyline points="1723.3,2096.91 1812.8,2094.7" fill="none" stroke="#1e5a9e" stroke-width="2.5"/>
<polygon points="1134.05,2250.72 1141.35,2263.49 1126.75,2263.49" fill="#fff" stroke="#1e5a9e" stroke-width="2.5"/>
<polygon points="1148.67,2163.91 1155.97,2176.69 1141.38,2176.69" fill="#fff" stroke="#1e5a9e" stroke-width="2.5"/>
<polygon points="1173.05,2129.2 1180.35,2141.97 1165.75,2141.97" fill="#fff" stroke="#1e5a9e" stroke-width="2.5"/>
<polygon points="1368.05,2096.95 1375.35,2109.73 1360.75,2109.73" fill="#fff" stroke="#1e5a9e" stroke-width="2.5"/>
<polygon points="1611.8,2091.99 1619.1,2104.77 1604.5,2104.77" fill="#fff" stroke="#1e5a9e" stroke-width="2.5"/>
<polygon points="1812.8,2087.03 1820.1,2099.81 1805.5,2099.81" fill="#fff" stroke="#1e5a9e" stroke-width="2.5"/>
<polyline points="1134.05,2290.62 1148.67,2208.78 1173.05,2174.06 1368.05,2146.78 1611.8,2141.82 1710,2139.4" fill="none" stroke="#5e3a17" stroke-width="2.5" stroke-linejoin="round"/>
<polyline points="1723.3,2139.07 1812.8,2136.86" fill="none" stroke="#5e3a17" stroke-width="2.5"/>
<polygon points="1134.05,2298.28 1141.35,2285.51 1126.75,2285.51" fill="#fff" stroke="#5e3a17" stroke-width="2.5"/>
<polygon points="1148.67,2216.45 1155.97,2203.67 1141.38,2203.67" fill="#fff" stroke="#5e3a17" stroke-width="2.5"/>
<polygon points="1173.05,2181.72 1180.35,2168.95 1165.75,2168.95" fill="#fff" stroke="#5e3a17" stroke-width="2.5"/>
<polygon points="1368.05,2154.45 1375.35,2141.67 1360.75,2141.67" fill="#fff" stroke="#5e3a17" stroke-width="2.5"/>
<polygon points="1611.8,2149.49 1619.1,2136.71 1604.5,2136.71" fill="#fff" stroke="#5e3a17" stroke-width="2.5"/>
<polygon points="1812.8,2144.53 1820.1,2131.75 1805.5,2131.75" fill="#fff" stroke="#5e3a17" stroke-width="2.5"/>
<polyline points="1134.05,2317.9 1148.67,2243.5 1173.05,2213.74 1368.05,2186.46 1611.8,2183.98 1710,2181.56" fill="none" stroke="#8a4504" stroke-width="2.5" stroke-linejoin="round"/>
<polyline points="1723.3,2181.23 1812.8,2179.02" fill="none" stroke="#8a4504" stroke-width="2.5"/>
<polygon points="1134.05,2309.9 1142.05,2317.9 1134.05,2325.9 1126.05,2317.9" fill="#fff" stroke="#8a4504" stroke-width="2.5"/>
<polygon points="1148.67,2235.5 1156.67,2243.5 1148.67,2251.5 1140.67,2243.5" fill="#fff" stroke="#8a4504" stroke-width="2.5"/>
<polygon points="1173.05,2205.74 1181.05,2213.74 1173.05,2221.74 1165.05,2213.74" fill="#fff" stroke="#8a4504" stroke-width="2.5"/>
<polygon points="1368.05,2178.46 1376.05,2186.46 1368.05,2194.46 1360.05,2186.46" fill="#fff" stroke="#8a4504" stroke-width="2.5"/>
<polygon points="1611.8,2175.98 1619.8,2183.98 1611.8,2191.98 1603.8,2183.98" fill="#fff" stroke="#8a4504" stroke-width="2.5"/>
<polygon points="1812.8,2171.02 1820.8,2179.02 1812.8,2187.02 1804.8,2179.02" fill="#fff" stroke="#8a4504" stroke-width="2.5"/>
<polyline points="1134.05,2345.18 1148.67,2278.22 1173.05,2248.46 1368.05,2223.66 1611.8,2221.18 1710,2219.97" fill="none" stroke="#b8742c" stroke-width="2.5" stroke-linejoin="round"/>
<polyline points="1723.3,2219.8 1812.8,2218.7" fill="none" stroke="#b8742c" stroke-width="2.5"/>
<polygon points="1126.07,2345.18 1139.37,2337.58 1139.37,2352.78" fill="#fff" stroke="#b8742c" stroke-width="2.5"/>
<polygon points="1140.69,2278.22 1153.99,2270.62 1153.99,2285.82" fill="#fff" stroke="#b8742c" stroke-width="2.5"/>
<polygon points="1165.07,2248.46 1178.37,2240.86 1178.37,2256.06" fill="#fff" stroke="#b8742c" stroke-width="2.5"/>
<polygon points="1360.07,2223.66 1373.37,2216.06 1373.37,2231.26" fill="#fff" stroke="#b8742c" stroke-width="2.5"/>
<polygon points="1603.82,2221.18 1617.12,2213.58 1617.12,2228.78" fill="#fff" stroke="#b8742c" stroke-width="2.5"/>
<polygon points="1804.82,2218.7 1818.12,2211.1 1818.12,2226.3" fill="#fff" stroke="#b8742c" stroke-width="2.5"/>
<rect x="1709" y="1965.5" width="15" height="12" fill="#fff"/><rect x="1709" y="2438.8" width="15" height="12" fill="#fff"/>
<rect x="1118.5" y="2396.5" width="12" height="11" fill="#fff"/><rect x="1858.5" y="2391.5" width="12" height="11" fill="#fff"/>
<g stroke="#000" stroke-width="3.4" stroke-linecap="round">
<line x1="1703.4" y1="1981.15" x2="1717" y2="1961.85"/><line x1="1716.4" y1="1981.15" x2="1730" y2="1961.85"/>
<line x1="1703.4" y1="2454.15" x2="1717" y2="2434.85"/><line x1="1716.4" y1="2454.15" x2="1730" y2="2434.85"/>
<line x1="1114.4" y1="2397.9" x2="1135" y2="2388.9"/><line x1="1114.4" y1="2406.3" x2="1135" y2="2397.3"/>
<line x1="1854.2" y1="2397.9" x2="1874.8" y2="2388.9"/><line x1="1854.2" y1="2406.3" x2="1874.8" y2="2397.3"/>
</g>
<line x1="1124.5" y1="2180.6" x2="1864" y2="2175" stroke="#19b5cd" stroke-width="4.2" stroke-dasharray="12.5 5.5"/>
<g font-weight="bold" font-size="20.6">
<g text-anchor="end">
<text x="1110.2" y="2000.7">0.26</text>
<text x="1110.2" y="2050.3">0.24</text>
<text x="1110.2" y="2099.9">0.22</text>
<text x="1110.2" y="2149.5">0.20</text>
<text x="1110.2" y="2199.1">0.18</text>
<text x="1110.2" y="2248.7">0.16</text>
<text x="1110.2" y="2298.3">0.14</text>
<text x="1110.2" y="2347.9">0.12</text>
<text x="1110.2" y="2397.5">0.10</text>
<text x="1110.2" y="2450.4">0.00</text>
</g>
<text x="1125.4" y="2483.3" text-anchor="middle">0</text>
<text x="1193.5" y="2483.3">2X10<tspan font-size="13.6" dy="-10.71" font-style="italic">4</tspan></text>
<text x="1282" y="2483.3">4X10<tspan font-size="13.6" dy="-10.71" font-style="italic">4</tspan></text>
<text x="1377" y="2483.3">6X10<tspan font-size="13.6" dy="-10.71" font-style="italic">4</tspan></text>
<text x="1466" y="2483.3">8X10<tspan font-size="13.6" dy="-10.71" font-style="italic">4</tspan></text>
<text x="1562" y="2483.3">1X10<tspan font-size="13.6" dy="-10.71" font-style="italic">5</tspan></text>
</g>
<text transform="translate(1793.4 2488.7) scale(1.42 0.93)" font-family='"DejaVu Sans", sans-serif' font-size="38">∝</text>
<text x="1268" y="2530" font-size="30.8" font-weight="bold" textLength="456" lengthAdjust="spacingAndGlyphs">Thermal conductance (Wm<tspan font-size="18.5" dy="-13.5">-2</tspan><tspan dy="13.5">K</tspan><tspan font-size="18.5" dy="-13.5">-1</tspan><tspan dy="13.5">)</tspan></text>
<text x="1052.3" y="2331" font-size="35.5" font-weight="bold" transform="rotate(-90 1052.3 2331)" textLength="205" lengthAdjust="spacingAndGlyphs">Power (mW)</text>
<line x1="1566.3" y1="2253" x2="1617" y2="2253" stroke="#12335e" stroke-width="2.5"/>
<rect x="1586.3" y="2247.8" width="10.4" height="10.4" fill="#fff" stroke="#12335e" stroke-width="2.5"/>
<text x="1622" y="2260.3" font-size="24.6" font-weight="bold"><tspan font-family='"Liberation Serif", serif' font-weight="normal" font-size="21">Δ</tspan>T = 27K</text>
<line x1="1566.3" y1="2284.75" x2="1617" y2="2284.75" stroke="#3a48c0" stroke-width="2.5"/>
<circle cx="1591.5" cy="2284.75" r="6.1" fill="#fff" stroke="#3a48c0" stroke-width="2.5"/>
<text x="1622" y="2292.05" font-size="24.6" font-weight="bold"><tspan font-family='"Liberation Serif", serif' font-weight="normal" font-size="21">Δ</tspan>T = 26K</text>
<line x1="1566.3" y1="2316.5" x2="1617" y2="2316.5" stroke="#1e5a9e" stroke-width="2.5"/>
<polygon points="1591.5,2308.84 1598.8,2321.61 1584.2,2321.61" fill="#fff" stroke="#1e5a9e" stroke-width="2.5"/>
<text x="1622" y="2323.8" font-size="24.6" font-weight="bold"><tspan font-family='"Liberation Serif", serif' font-weight="normal" font-size="21">Δ</tspan>T = 25K</text>
<line x1="1566.3" y1="2348.25" x2="1617" y2="2348.25" stroke="#5e3a17" stroke-width="2.5"/>
<polygon points="1591.5,2355.91 1598.8,2343.14 1584.2,2343.14" fill="#fff" stroke="#5e3a17" stroke-width="2.5"/>
<text x="1622" y="2355.55" font-size="24.6" font-weight="bold"><tspan font-family='"Liberation Serif", serif' font-weight="normal" font-size="21">Δ</tspan>T = 24K</text>
<line x1="1566.3" y1="2380" x2="1617" y2="2380" stroke="#8a4504" stroke-width="2.5"/>
<polygon points="1591.5,2372 1599.5,2380 1591.5,2388 1583.5,2380" fill="#fff" stroke="#8a4504" stroke-width="2.5"/>
<text x="1622" y="2387.3" font-size="24.6" font-weight="bold"><tspan font-family='"Liberation Serif", serif' font-weight="normal" font-size="21">Δ</tspan>T = 23K</text>
<line x1="1566.3" y1="2411.75" x2="1617" y2="2411.75" stroke="#b8742c" stroke-width="2.5"/>
<polygon points="1583.52,2411.75 1596.82,2404.15 1596.82,2419.35" fill="#fff" stroke="#b8742c" stroke-width="2.5"/>
<text x="1622" y="2419.05" font-size="24.6" font-weight="bold"><tspan font-family='"Liberation Serif", serif' font-weight="normal" font-size="21">Δ</tspan>T = 22K</text>
<polygon points="1848.3,2189.5 1845.5,2215 1837.5,2210.5 1819.5,2242 1814.8,2239.2 1832.7,2207.7 1824.8,2203" fill="#19b5cd"/>
<text x="1768" y="2273" font-size="30.8" font-weight="bold" fill="#19b5cd">0.175</text>
<text x="1004.5" y="1967" font-size="64" textLength="15" lengthAdjust="spacingAndGlyphs">j</text>
</g>
<g id="p-g">
<polygon points="160,1521.43 528.58,1575 528.58,1763.58 511.82,1761.29 495.07,1758.99 478.32,1756.34 461.56,1754.19 444.81,1750.21 428.06,1748.24 411.3,1740.67 394.55,1740.02 377.8,1739.58 361.04,1735.13 344.29,1733.52 327.54,1726.5 310.78,1725.43 294.03,1721.35 277.28,1719.97 260.52,1717.21 243.77,1711.37 227.01,1709.5 210.26,1706.91 193.51,1707.3 176.75,1703.59 160,1699.29" fill="url(#gL)"/>
<polygon points="527.98,1575 783.58,1517.14 783.58,1688.57 767.64,1693.07 751.71,1697.29 735.77,1700.76 719.83,1709.23 703.89,1709.45 687.95,1716.71 672.02,1723.46 656.08,1723.9 640.14,1731.05 624.2,1736.06 608.27,1737.75 592.33,1744.2 576.39,1750.57 560.45,1753.95 544.52,1760.06 527.98,1763.58" fill="url(#gR)"/>
<polygon points="277.86,1547.14 370.86,1560 370.86,1687.72 277.86,1704.86" fill="url(#gLi)"/>
<rect x="370.56" y="1560" width="29.74" height="127.72" fill="url(#gBk)"/>
<polygon points="370.86,1656.43 400,1657.72 400,1687.72 370.86,1687.72" fill="#1212a8"/>
<polygon points="370.86,1673.57 400,1674.86 400,1687.72 370.86,1687.72" fill="#0a0a8a"/>
<polygon points="277.86,1704.86 370.86,1687.29 400,1687.29 400,1725.43" fill="#1b6be0"/>
<polygon points="277.86,1539.43 400,1557 400,1566 370.86,1561.29 277.86,1548.43" fill="url(#gRed)"/>
<polygon points="620.72,1568.57 704.29,1549.29 704.29,1702.29 620.72,1693.72" fill="url(#gRi)"/>
<polygon points="620.72,1692.86 700.01,1704.86 704.29,1702.29 704.29,1704.86 620.72,1725.86" fill="#0a22c8"/>
<polygon points="620.72,1709.15 670.01,1714.29 620.72,1725.86" fill="#1468e0"/>
<polygon points="160,1521.43 400,1478.57 783.58,1517.14 528.58,1575" fill="#e59a20" stroke="#e59a20" stroke-width="1.5"/>
<g filter="url(#gtex)">
<polygon points="160,1521.43 168,1518.9 176,1519.61 184,1517.94 192,1514.98 200,1514.27 208,1512.71 216,1511.88 224,1510.87 232,1507.35 240,1505.73 248,1506.72 256,1504.08 264,1503.64 272,1499.94 280,1499.84 288,1499.24 296,1496.33 304,1497.05 312,1495.49 320,1491.45 328,1490.01 336,1490.12 344,1489.89 352,1486.79 360,1484.86 368,1484.05 376,1481.44 384,1480.59 392,1479.81 400,1478.57 408.53,1480.8 417.05,1481.63 425.58,1479.81 434.1,1480.76 442.62,1483.86 451.15,1484.42 459.67,1485.08 468.2,1484.85 476.72,1486.6 485.24,1487.46 493.77,1488.24 502.29,1487.83 510.82,1489.51 519.34,1490.25 527.86,1492.1 536.39,1493.77 544.91,1494.49 553.44,1494.13 561.96,1494.69 570.48,1495.02 579.01,1495.18 587.53,1496.01 596.05,1498.18 604.58,1498.6 613.1,1499.64 621.63,1502.03 630.15,1501.79 638.67,1502.75 647.2,1502.64 655.72,1502.86 664.25,1504.62 672.77,1504.91 681.29,1506.89 689.82,1509.21 698.34,1509.1 706.87,1508.48 715.39,1511.47 723.91,1512.03 732.44,1512.7 740.96,1514.08 749.49,1514.5 758.01,1515.44 766.53,1514.99 775.06,1517.73 783.58,1517.14 775.08,1518.13 766.58,1521.16 758.08,1522.46 749.58,1525.23 741.08,1527.24 732.58,1527.15 724.08,1528.89 715.58,1533.79 707.08,1533.64 698.58,1535.47 690.08,1540.14 681.58,1540.18 673.08,1543.43 664.58,1544.06 656.08,1546.57 647.58,1546.74 639.08,1550.42 630.58,1553.18 622.08,1553.87 613.58,1556.58 605.08,1558.26 596.58,1558 588.08,1562.43 579.58,1563.76 571.08,1564.64 562.58,1565.6 554.08,1570.53 545.58,1571.05 537.08,1573.86 528.58,1575 520.39,1572.86 512.2,1571.19 504.01,1571.06 495.82,1569 487.62,1567.49 479.43,1567.5 471.24,1568.17 463.05,1566.56 454.86,1565.24 446.67,1562.1 438.48,1562.04 430.29,1559.91 422.1,1558.35 413.91,1556.92 405.72,1556.12 397.53,1557.49 389.34,1555.95 381.15,1554.68 372.96,1553.46 364.77,1550.09 356.58,1549.32 348.38,1549.27 340.19,1548.46 332,1547.71 323.81,1546.61 315.62,1542.56 307.43,1543.24 299.24,1542.29 291.05,1540.5 282.86,1538.13 274.67,1538 266.48,1535.43 258.29,1537.28 250.1,1535.84 241.91,1533.51 233.72,1531.43 225.53,1532.43 217.34,1530.02 209.14,1529.95 200.95,1528.64 192.76,1526.22 184.57,1524.69 176.38,1524.17 168.19,1522.37" fill="#e59a20"/>
</g>
<g clip-path="url(#gtop)"><g filter="url(#b3)">
<polygon points="273.57,1538.57 409.43,1562.14 655.01,1502.57 528.58,1487.14" fill="#ee2a0c"/>
<polygon points="301.43,1542 395.72,1556.57 631.44,1500 545.72,1489.71" fill="#b00a08"/>
<polygon points="327.15,1545.43 378.58,1553.14 614.29,1498.29 560.72,1492.29" fill="#8a0404"/>
</g>
<g filter="url(#gtex2)" opacity="0.55">
<polygon points="273.57,1538.57 409.43,1562.14 655.01,1502.57 528.58,1487.14" fill="#c01808"/>
</g></g>
<rect x="829.3" y="1365.5" width="28" height="484" fill="url(#jet)" stroke="#000" stroke-width="2"/>
<path d="M830.3 1371.5h5.5M856.3 1371.5h-5.5M830.3 1425.8h5.5M856.3 1425.8h-5.5M830.3 1480.1h5.5M856.3 1480.1h-5.5M830.3 1534.4h5.5M856.3 1534.4h-5.5M830.3 1588.7h5.5M856.3 1588.7h-5.5M830.3 1643h5.5M856.3 1643h-5.5M830.3 1697.3h5.5M856.3 1697.3h-5.5M830.3 1751.6h5.5M856.3 1751.6h-5.5M830.3 1805.9h5.5M856.3 1805.9h-5.5" stroke="#000" stroke-width="1.6" fill="none"/>
<g font-family='"DejaVu Sans", sans-serif' font-size="21.8" fill="#1a1a1a">
<text x="872.5" y="1379.9">330</text>
<text x="872.5" y="1434.2">325</text>
<text x="872.5" y="1488.5">320</text>
<text x="872.5" y="1542.8">315</text>
<text x="872.5" y="1597.1">310</text>
<text x="872.5" y="1651.4">305</text>
<text x="872.5" y="1705.7">300</text>
<text x="872.5" y="1760">295</text>
<text x="872.5" y="1814.3">290</text>
</g>
<line x1="168.1" y1="1849" x2="144.14" y2="1844.87" stroke="#d8125e" stroke-width="2.4"/><polygon points="133.3,1843 144.85,1840.73 143.43,1849.01" fill="#d8125e"/>
<line x1="168.1" y1="1849" x2="184.03" y2="1846.3" stroke="#3b78b8" stroke-width="2.2"/><polygon points="192.9,1844.8 184.66,1850.05 183.39,1842.56" fill="#3b78b8"/>
<line x1="168.1" y1="1849" x2="169.09" y2="1819.99" stroke="#4da33f" stroke-width="2.6"/><polygon points="169.5,1808 173.49,1820.14 164.69,1819.84" fill="#4da33f"/>
<g font-family='"DejaVu Sans", sans-serif' font-size="19.5" fill="#111">
<text x="118.8" y="1847">x</text>
<text x="164.4" y="1798.5">y</text>
<text x="193.9" y="1849">z</text>
</g>
<text x="33" y="1414" font-size="64" textLength="37.5" lengthAdjust="spacingAndGlyphs">g</text>
</g>
<g id="p-h">
<path d="M1106.07 1707.84l-2.95 7.16l10.35 -7.16zM1119.51 1710.94l10.83 8.14l-3.43 -8.14zM1132.94 1714.04l-3.33 7.58l10.73 -7.58zM1146.38 1717.14l11 8.33l-3.6 -8.33zM1159.81 1720.24l-4.06 8.4l11.46 -8.4zM1173.25 1723.33l9.45 6.61l-2.05 -6.61zM1186.68 1726.43l-2.3 6.44l9.7 -6.44zM1200.11 1729.53l11.67 9.08l-4.27 -9.08zM1213.55 1732.63l-3.01 7.23l10.41 -7.23zM1226.98 1735.73l9.93 7.15l-2.53 -7.15zM1240.42 1738.83l-5.13 9.59l12.53 -9.59zM1253.85 1741.93l10.61 7.9l-3.21 -7.9zM1267.29 1745.03l-4.67 9.08l12.07 -9.08zM1280.72 1748.13l10.63 7.92l-3.23 -7.92zM1294.15 1751.22l-4.1 8.45l11.5 -8.45zM1307.59 1754.32l9.69 6.88l-2.29 -6.88zM1321.02 1757.42l-4.09 8.43l11.49 -8.43zM1334.46 1760.52l11.76 9.18l-4.36 -9.18zM1347.89 1763.62l-3.77 8.07l11.17 -8.07zM1361.33 1766.72l11.39 8.77l-3.99 -8.77zM1374.76 1769.82l-4.19 8.55l11.59 -8.55zM1388.19 1772.92l9.44 6.6l-2.04 -6.6zM1401.63 1776.02l-4.44 8.83l11.84 -8.83zM1415.06 1779.12l10.96 8.29l-3.56 -8.29zM1428.5 1782.21l-3.13 7.36l10.53 -7.36zM1441.93 1785.31l9.35 6.5l-1.95 -6.5z" fill="#0a0a8c"/>
<path d="M1455.04 1784.76l-2.94 7.16l10.34 -7.16zM1467.84 1780.56l9.56 6.73l-2.16 -6.73zM1480.63 1776.36l-3.4 7.67l10.8 -7.67zM1493.42 1772.16l9.71 6.9l-2.31 -6.9zM1506.22 1767.96l-2.45 6.61l9.85 -6.61zM1519.01 1763.76l10.42 7.69l-3.02 -7.69zM1531.8 1759.56l-4.9 9.34l12.3 -9.34zM1544.6 1755.36l11.57 8.96l-4.17 -8.96zM1557.39 1751.16l-4.46 8.85l11.86 -8.85zM1570.18 1746.96l9.9 7.11l-2.5 -7.11zM1582.98 1742.76l-3.81 8.12l11.21 -8.12zM1595.77 1738.56l10.06 7.29l-2.66 -7.29zM1608.56 1734.36l-2.76 6.95l10.16 -6.95zM1621.35 1730.16l9.57 6.74l-2.17 -6.74zM1634.15 1725.96l-2.88 7.09l10.28 -7.09zM1646.94 1721.76l11.93 9.37l-4.53 -9.37zM1659.73 1717.56l-4.65 9.05l12.05 -9.05zM1672.53 1713.36l11.58 8.98l-4.18 -8.98zM1685.32 1709.16l-4.57 8.96l11.97 -8.96zM1698.11 1704.96l9.82 7.02l-2.42 -7.02z" fill="#06066e"/>
<polygon points="1101.57,1510.86 1452.15,1573 1452.15,1786.43 1101.57,1706.29" fill="url(#hL)"/>
<polygon points="1451.55,1573 1714.87,1510.86 1707.15,1703.72 1451.55,1786.43" fill="url(#hR)"/>
<polygon points="1213,1552 1307.72,1570 1307.72,1679.72 1213,1702.86" fill="url(#hLi)"/>
<rect x="1307.42" y="1570.86" width="22.89" height="110.57" fill="url(#hBk)"/>
<polygon points="1307.72,1642.86 1330,1644.57 1330,1682.29 1307.72,1679.72" fill="#161696"/>
<polygon points="1213,1702.86 1307.72,1679.29 1330,1681.86 1327.86,1729.43" fill="#1a2ae0"/>
<polygon points="1307.72,1570 1330,1574.29 1330,1576.86 1307.72,1572.57" fill="#20d8c0"/>
<polygon points="1546.44,1580.72 1634.29,1558 1629.15,1706.29 1544.29,1695.15" fill="url(#hRi)"/>
<polygon points="1544.29,1694.29 1629.15,1706.29 1543.44,1731.15" fill="#0a0a80"/>
<polygon points="1101.57,1510.86 1366.43,1446.57 1714.87,1510.86 1452.15,1573" fill="#800404" stroke="#800404" stroke-width="1.2"/>
<polygon points="1108,1504 1366.43,1442.29 1709.29,1504 1452.15,1566.57" fill="url(#hweave)"/>
<path d="M1114.62 1500.96l-2.12 -5.25l7.72 5.25zM1126.22 1498.31l7.54 -5.48l-1.94 5.48zM1137.81 1495.66l-2.43 -5.59l8.03 5.59zM1149.4 1493.01l7.9 -5.88l-2.3 5.88zM1160.99 1490.36l-2.33 -5.48l7.93 5.48zM1172.58 1487.72l7.86 -5.84l-2.26 5.84zM1184.17 1485.07l-1.05 -4.06l6.65 4.06zM1195.76 1482.42l7.04 -4.93l-1.44 4.93zM1207.35 1479.77l-2.7 -5.89l8.3 5.89zM1218.94 1477.12l7.37 -5.3l-1.77 5.3zM1230.54 1474.47l-2.62 -5.8l8.22 5.8zM1242.13 1471.82l6.4 -4.23l-0.8 4.23zM1253.72 1469.17l-1.84 -4.94l7.44 4.94zM1265.31 1466.52l6.64 -4.49l-1.04 4.49zM1276.9 1463.87l-1.98 -5.09l7.58 5.09zM1288.49 1461.22l7.23 -5.15l-1.63 5.15zM1300.08 1458.57l-1.02 -4.03l6.62 4.03zM1311.67 1455.92l6.59 -4.43l-0.99 4.43zM1323.26 1453.27l-1.5 -4.56l7.1 4.56zM1334.86 1450.62l7.85 -5.83l-2.25 5.83zM1346.45 1447.97l-2.38 -5.53l7.98 5.53zM1358.04 1445.33l6.49 -4.32l-0.89 4.32z" fill="#8a0a06"/>
<path d="M1369.93 1445.04l-2.43 -5.59l8.03 5.59zM1382.13 1447.12l7.68 -5.64l-2.08 5.64zM1394.33 1449.2l-1.87 -4.97l7.47 4.97zM1406.53 1451.29l6.67 -4.52l-1.07 4.52zM1418.73 1453.37l-1 -4l6.6 4zM1430.93 1455.45l7.39 -5.33l-1.79 5.33zM1443.13 1457.53l-1.85 -4.94l7.45 4.94zM1455.33 1459.61l7.57 -5.52l-1.97 5.52zM1467.53 1461.69l-1.67 -4.75l7.27 4.75zM1479.72 1463.78l7.59 -5.54l-1.99 5.54zM1491.92 1465.86l-1.49 -4.55l7.09 4.55zM1504.12 1467.94l7.64 -5.6l-2.04 5.6zM1516.32 1470.02l-2.31 -5.46l7.91 5.46zM1528.52 1472.1l6.95 -4.83l-1.35 4.83zM1540.72 1474.18l-1.97 -5.08l7.57 5.08zM1552.92 1476.27l7.43 -5.36l-1.83 5.36zM1565.12 1478.35l-1.35 -4.39l6.95 4.39zM1577.32 1480.43l7.2 -5.11l-1.6 5.11zM1589.52 1482.51l-2.45 -5.61l8.05 5.61zM1601.72 1484.59l6.68 -4.53l-1.08 4.53zM1613.92 1486.67l-2.45 -5.61l8.05 5.61zM1626.11 1488.76l7.43 -5.37l-1.83 5.37zM1638.31 1490.84l-2.52 -5.69l8.12 5.69zM1650.51 1492.92l6.8 -4.67l-1.2 4.67zM1662.71 1495l-1.17 -4.19l6.77 4.19zM1674.91 1497.08l7.64 -5.6l-2.04 5.6zM1687.11 1499.16l-2.45 -5.61l8.05 5.61zM1699.31 1501.25l7 -4.89l-1.4 4.89z" fill="#8a0a06"/>
<path d="M1116.62 1506.75l-1.16 4.18l6.76 -4.18zM1127.9 1508.82l6.08 3.87l-0.48 -3.87zM1139.19 1510.89l-1.69 4.77l7.29 -4.77zM1150.47 1512.97l5.96 3.73l-0.36 -3.73zM1161.76 1515.04l-1.51 4.56l7.11 -4.56zM1173.04 1517.11l6.43 4.26l-0.83 -4.26zM1184.33 1519.18l-0.73 3.7l6.33 -3.7zM1195.62 1521.25l6.66 4.51l-1.06 -4.51zM1206.9 1523.32l-0.7 3.67l6.3 -3.67zM1218.19 1525.39l6.54 4.38l-0.94 -4.38zM1229.47 1527.47l-0.75 3.73l6.35 -3.73zM1240.76 1529.54l5.99 3.76l-0.39 -3.76zM1252.05 1531.61l-1.33 4.36l6.93 -4.36zM1263.33 1533.68l7.18 5.09l-1.58 -5.09zM1274.62 1535.75l-0.84 3.82l6.44 -3.82zM1285.9 1537.82l6.2 4l-0.6 -4zM1297.19 1539.89l-1.66 4.73l7.26 -4.73zM1308.48 1541.97l7.38 5.31l-1.78 -5.31zM1319.76 1544.04l-1.57 4.64l7.17 -4.64zM1331.05 1546.11l6.48 4.31l-0.88 -4.31zM1342.33 1548.18l-2.22 5.36l7.82 -5.36zM1353.62 1550.25l5.92 3.68l-0.32 -3.68zM1364.9 1552.32l-2.03 5.15l7.63 -5.15zM1376.19 1554.39l6.31 4.12l-0.71 -4.12zM1387.48 1556.47l-0.87 3.86l6.47 -3.86zM1398.76 1558.54l6.03 3.81l-0.43 -3.81zM1410.05 1560.61l-1.14 4.16l6.74 -4.16zM1421.33 1562.68l7.16 5.07l-1.56 -5.07zM1432.62 1564.75l-0.93 3.93l6.53 -3.93zM1443.91 1566.82l6.78 4.65l-1.18 -4.65z" fill="#9a140c"/>
<path d="M1454.86 1566.56l-1.01 4.01l6.61 -4.01zM1465.49 1563.98l7.4 5.33l-1.8 -5.33zM1476.11 1561.39l-0.84 3.83l6.44 -3.83zM1486.74 1558.8l6.98 4.87l-1.38 -4.87zM1497.36 1556.21l-0.78 3.75l6.38 -3.75zM1507.99 1553.62l6.24 4.05l-0.64 -4.05zM1518.61 1551.03l-2.26 5.4l7.86 -5.4zM1529.24 1548.44l6.18 3.98l-0.58 -3.98zM1539.86 1545.85l-1.68 4.76l7.28 -4.76zM1550.49 1543.26l6.58 4.43l-0.98 -4.43zM1561.11 1540.67l-1.37 4.42l6.97 -4.42zM1571.74 1538.08l6.64 4.49l-1.04 -4.49zM1582.36 1535.49l-0.95 3.95l6.55 -3.95zM1592.99 1532.9l7.19 5.09l-1.59 -5.09zM1603.61 1530.31l-0.79 3.76l6.39 -3.76zM1614.24 1527.72l6.22 4.02l-0.62 -4.02zM1624.86 1525.14l-0.67 3.64l6.27 -3.64zM1635.49 1522.55l6.27 4.08l-0.67 -4.08zM1646.11 1519.96l-1.3 4.33l6.9 -4.33zM1656.74 1517.37l7.3 5.22l-1.7 -5.22zM1667.36 1514.78l-1.25 4.28l6.85 -4.28zM1677.99 1512.19l6.02 3.8l-0.42 -3.8zM1688.61 1509.6l-1.06 4.07l6.66 -4.07zM1699.24 1507.01l7.45 5.38l-1.85 -5.38z" fill="#8a0a06"/>
<rect x="1781.5" y="1365.5" width="27.8" height="483.5" fill="url(#jet)" stroke="#000" stroke-width="2"/>
<path d="M1782.5 1395.8h5.5M1808.3 1395.8h-5.5M1782.5 1444.22h5.5M1808.3 1444.22h-5.5M1782.5 1492.64h5.5M1808.3 1492.64h-5.5M1782.5 1541.06h5.5M1808.3 1541.06h-5.5M1782.5 1589.48h5.5M1808.3 1589.48h-5.5M1782.5 1637.9h5.5M1808.3 1637.9h-5.5M1782.5 1686.32h5.5M1808.3 1686.32h-5.5M1782.5 1734.74h5.5M1808.3 1734.74h-5.5M1782.5 1783.16h5.5M1808.3 1783.16h-5.5M1782.5 1831.58h5.5M1808.3 1831.58h-5.5" stroke="#000" stroke-width="1.6" fill="none"/>
<g font-family='"DejaVu Sans", sans-serif' font-size="21.8" fill="#1a1a1a">
<text x="1824.5" y="1404.1">330</text>
<text x="1824.5" y="1452.52">325</text>
<text x="1824.5" y="1500.94">320</text>
<text x="1824.5" y="1549.36">315</text>
<text x="1824.5" y="1597.78">310</text>
<text x="1824.5" y="1646.2">305</text>
<text x="1824.5" y="1694.62">300</text>
<text x="1824.5" y="1743.04">295</text>
<text x="1824.5" y="1791.46">290</text>
<text x="1824.5" y="1839.88">285</text>
</g>
<line x1="1119.4" y1="1847.2" x2="1095.44" y2="1843.07" stroke="#d8125e" stroke-width="2.4"/><polygon points="1084.6,1841.2 1096.15,1838.93 1094.73,1847.21" fill="#d8125e"/>
<line x1="1119.4" y1="1847.2" x2="1135.33" y2="1844.5" stroke="#3b78b8" stroke-width="2.2"/><polygon points="1144.2,1843 1135.96,1848.25 1134.69,1840.76" fill="#3b78b8"/>
<line x1="1119.4" y1="1847.2" x2="1120.39" y2="1818.19" stroke="#4da33f" stroke-width="2.6"/><polygon points="1120.8,1806.2 1124.79,1818.34 1115.99,1818.04" fill="#4da33f"/>
<g font-family='"DejaVu Sans", sans-serif' font-size="19.5" fill="#111">
<text x="1070.1" y="1845.2">x</text>
<text x="1115.7" y="1796.7">y</text>
<text x="1145.2" y="1847.2">z</text>
</g>
<text x="988" y="1417.5" font-size="64" textLength="37.5" lengthAdjust="spacingAndGlyphs">h</text>
</g>
<g id="p-a">
<rect x="49.3" y="502.5" width="496.7" height="225.2" fill="#f2f2f2"/>
<g clip-path="url(#aclip2)">
<rect x="50.2" y="31.8" width="494.4" height="470.9" fill="url(#aglow)"/>
<g filter="url(#asoft)">
<polygon points="108.93,70.71 438.57,86.79 438.57,175 271.43,167.86 125.71,160" fill="url(#mesh)"/>
<polygon points="111.43,403.57 285.71,442.86 235.71,480.36 107.86,446.43" fill="url(#mesh3)"/>
<path d="M 267.86 165 L 421.43 172.14 Q 500 174.29 505.71 200 Q 507.86 232.14 501.07 260 Q 500 285.71 497.86 305 Q 494.64 335.71 486.07 363.93 Q 476.79 389.29 463.93 408.93 Q 450.71 432.14 433.93 452.86 Q 414.29 478.57 387.5 507.14 L 194.64 507.14 Q 250 471.43 292.86 455.36 L 385.71 421.43 L 385.71 214.29 Z" fill="url(#mesh2)"/>
<path d="M 267.86 165 L 421.43 172.14 Q 500 174.29 505.71 200 Q 507.86 232.14 501.07 260 Q 500 285.71 497.86 305 Q 494.64 335.71 486.07 363.93 Q 476.79 389.29 463.93 408.93 Q 450.71 432.14 433.93 452.86 Q 414.29 478.57 387.5 507.14 L 194.64 507.14 Q 250 471.43 292.86 455.36 L 385.71 421.43 L 385.71 214.29 Z" fill="url(#aband)"/>
<path d="M 464.29 175.71 Q 504.29 178.57 505 214.29 L 501.07 260 L 494.64 264.29 Q 500 200 460.71 185.71 Z" fill="#d9b48c"/>
<path d="M 460.71 185.71 Q 500 200 494.64 264.29 L 480.36 285.71 Q 489.29 214.29 448.21 200 Z" fill="#37378f"/>
<path d="M 448.21 200 Q 489.29 214.29 480.36 285.71 L 471.43 296.43 Q 480.36 228.57 441.07 208.93 Z" fill="#d08848"/>
<path d="M 87.5 160 L 416.07 194.64 L 424.29 256.43 Q 285.71 246.43 151.79 229.29 Q 107.14 201.79 87.5 160 Z" fill="url(#awh)"/>
<path d="M 87.5 160 L 416.07 194.64 L 416.79 200.71 L 89.29 165 Z" fill="#fdfdfd"/>
<polygon points="80.36,227.5 158.93,222.14 425,254.29 406.07,271.43" fill="#8e5a2c"/>
<polygon points="80.36,227.14 406.07,271.43 403.93,280.36 79.29,235.36" fill="#efa652"/>
<polygon points="78.93,272.5 153.57,246.43 428.57,282.14 394.64,322.5" fill="#28226a"/>
<polygon points="78.93,272.5 394.64,322.5 394.64,372.5 78.93,317.86" fill="url(#abl)"/>
<polygon points="394.64,322.5 428.57,282.14 432.14,332.14 394.64,372.5" fill="#2e2f86"/>
<polygon points="104.29,276.44 107.86,277.16 107.86,322.91 104.29,322.2" fill="#14123a"/>
<polygon points="104.29,276.44 107.86,277.16 136.43,255.37 132.86,254.66" fill="#17143e"/>
<polygon points="136.43,281.53 140,282.25 140,328.48 136.43,327.76" fill="#14123a"/>
<polygon points="136.43,281.53 140,282.25 168.57,260.46 165,259.75" fill="#17143e"/>
<polygon points="169.64,286.79 173.21,287.51 173.21,334.22 169.64,333.51" fill="#14123a"/>
<polygon points="169.64,286.79 173.21,287.51 201.79,265.72 198.21,265.01" fill="#17143e"/>
<polygon points="204.29,292.28 207.86,292.99 207.86,340.22 204.29,339.51" fill="#14123a"/>
<polygon points="204.29,292.28 207.86,292.99 236.43,271.21 232.86,270.49" fill="#17143e"/>
<polygon points="238.21,297.65 241.79,298.37 241.79,346.09 238.21,345.38" fill="#14123a"/>
<polygon points="238.21,297.65 241.79,298.37 270.36,276.58 266.79,275.87" fill="#17143e"/>
<polygon points="275,303.48 278.57,304.19 278.57,352.46 275,351.74" fill="#14123a"/>
<polygon points="275,303.48 278.57,304.19 307.14,282.41 303.57,281.69" fill="#17143e"/>
<polygon points="313.21,309.53 316.79,310.24 316.79,359.07 313.21,358.36" fill="#14123a"/>
<polygon points="313.21,309.53 316.79,310.24 345.36,288.46 341.79,287.74" fill="#17143e"/>
<polygon points="352.86,315.81 356.43,316.52 356.43,365.93 352.86,365.22" fill="#14123a"/>
<polygon points="352.86,315.81 356.43,316.52 385,294.74 381.43,294.02" fill="#17143e"/>
<polygon points="107.14,319.64 405.36,373.21 395.71,429.64 82.86,361.43" fill="url(#aor)"/>
<polygon points="101.79,371.43 393.57,429.64 387.5,468.57 89.29,398.21" fill="url(#awh2)"/>
<polygon points="78.93,314.29 394.64,368.93 394.64,372.5 78.93,317.86" fill="#33369a"/>
</g>
<g filter="url(#aglw2)">
<ellipse cx="250" cy="303.57" rx="120" ry="42" fill="#5a50d8" opacity="0.35" transform="rotate(9 250 303.57)"/>
<ellipse cx="478.57" cy="242.86" rx="26" ry="55" fill="#4a58e0" opacity="0.55" transform="rotate(-20 478.57 242.86)"/>
<ellipse cx="271.43" cy="378.57" rx="90" ry="26" fill="#b8d8ff" opacity="0.3" transform="rotate(10 271.43 378.57)"/>
</g>
<g fill="none" stroke-linejoin="round" stroke-linecap="round">
<g filter="url(#aglw)" opacity="0.85">
<polyline points="153.57,214.29 143.86,234.82 149.78,240.6 141.59,258.73 140.08,279.14 127.35,282.27 135.04,303.71 129.92,312.02 120.97,338.4 117.86,350" stroke="#9fd8ff" stroke-width="4.6"/>
<polyline points="221.43,200 225.28,221.17 205.89,219.87 215.28,244.52 208.47,250.68 203.4,269.29 199.01,275.1 192.46,292.62 193.51,316.42 185.71,321.43" stroke="#c8a0f0" stroke-width="4.6"/>
<polyline points="321.43,214.29 310.54,220.02 305.29,225.97 301.8,223.39 285.9,239.51 282.28,236 285.65,244.47 271.43,250" stroke="#7fe6ff" stroke-width="4.6"/>
<polyline points="271.43,250 260.22,245.32 253.25,245.12 241.38,246.87 241.32,250.15 228.57,246.43" stroke="#7fe6ff" stroke-width="4.6"/>
<polyline points="357.14,250 351.93,261.45 347.5,272.26 339.48,279.6 321.17,280.07 328.4,290.61 320.59,289.84 307.14,303.57" stroke="#6fdcff" stroke-width="4.6"/>
<polyline points="307.14,303.57 306.05,319.8 294.64,320.91 280.21,338.51 282.14,350.88 274.36,361.77 266.51,373.03 264.29,378.57" stroke="#d0e8ff" stroke-width="4.6"/>
<polyline points="410.71,271.43 401.9,275.27 399.56,282.6 391.53,294.7 378.84,304.86 372.03,312.24 371.43,321.43" stroke="#7fe6ff" stroke-width="4.6"/>
<polyline points="371.43,321.43 366.11,341.96 363.52,351.18 361.85,357.26 375.19,369.92 368.56,387.11 364.57,400.94 364.29,414.29" stroke="#f0d0f0" stroke-width="4.6"/>
<polyline points="492.86,214.29 484.24,220.33 471.11,236.12 460.99,238.44 466.97,239.84 453.53,256.3 437.43,260.6 439.8,269.78 428.57,278.57" stroke="#a0c8ff" stroke-width="4.6"/>
<polyline points="200,371.43 214.51,368.53 228.01,363.24 245.1,371.16 255.98,358.95 267.29,359.79 276.43,367.83 301.55,351.77 307.14,357.14" stroke="#f4e8f8" stroke-width="4.6"/>
<polyline points="307.14,357.14 315.39,366.93 331.06,374.51 334.04,385.18 338.35,393.03 353.64,405.97 360.71,410.71" stroke="#f0d8f0" stroke-width="4.6"/>
<polyline points="117.86,350 126.85,359.66 138.33,361.63 140.12,372.14 152.42,384.98 164.29,389.29" stroke="#f8e0a0" stroke-width="4.6"/>
<polyline points="250,142.86 244.02,157.8 244.7,172.54 236.14,179.45 232.19,192.49 234.48,204.64 228.57,221.43" stroke="#8fb0e8" stroke-width="4.6"/>
<polyline points="167.86,271.43 169.79,283.74 182.45,296.46 184.53,298.64 196.25,313.24 200,321.43" stroke="#70d8ff" stroke-width="4.6"/>
<polyline points="450,228.57 459.65,232.26 462.36,242.29 469.86,249.45 473.79,264.67 475,271.43" stroke="#e8b0e0" stroke-width="4.6"/>
<polyline points="278.57,457.14 285.76,447.66 294.88,438.04 303.38,430.86 310.45,421.35 321.43,410.71" stroke="#f0c8d8" stroke-width="4.6"/>
<polyline points="228.57,307.14 234.51,320.21 244.6,325.04 248.38,339.19 253.04,343.24 257.14,357.14" stroke="#60c8f8" stroke-width="4.6"/>
<polyline points="107.14,250 108.02,254.54 120.05,271.41 123.93,273.59 132.27,291.41 138.32,300.71 150,307.14" stroke="#b0a0ff" stroke-width="4.6"/>
<polyline points="185.71,250 191.6,252.68 204.89,266.48 217.81,270.37 224,273.91 243.21,280.02 250,285.71" stroke="#70e0ff" stroke-width="4.6"/>
<polyline points="332.14,278.57 343.07,275.32 356,266.5 364.24,268.75 377.29,255.94 384.47,256.1 392.86,250" stroke="#80e8ff" stroke-width="4.6"/>
<polyline points="421.43,250 428.9,242.65 439.64,237.89 447.22,223.45 455.13,215.8 454.93,203.7 464.29,200" stroke="#a0d0ff" stroke-width="4.6"/>
<polyline points="214.29,339.29 206.27,351.43 199.97,362.03 186.12,372.46 180.76,379.26 171.43,385.71" stroke="#ffe8c0" stroke-width="4.6"/>
<polyline points="321.43,321.43 325.43,336.26 337.45,345.61 341.47,355.18 339.29,362.7 350,371.43" stroke="#e0c8ff" stroke-width="4.6"/>
<polyline points="392.86,357.14 400.39,364.49 405.46,383.42 413.35,391.58 417.02,401.55 421.43,414.29" stroke="#ffd8e8" stroke-width="4.6"/>
<polyline points="135.71,228.57 131.39,236.43 126.53,241.38 120.55,253.04 113.94,259.56 107.14,271.43" stroke="#c8b0ff" stroke-width="4.6"/>
<polyline points="446.43,321.43 451.08,329.37 458.1,338.39 468.39,349.46 475,357.14" stroke="#ffe0e8" stroke-width="4.6"/>
</g><g filter="url(#asoft)">
<polyline points="153.57,214.29 143.86,234.82 149.78,240.6 141.59,258.73 140.08,279.14 127.35,282.27 135.04,303.71 129.92,312.02 120.97,338.4 117.86,350" stroke="#f2fbff" stroke-width="1.3"/>
<polyline points="221.43,200 225.28,221.17 205.89,219.87 215.28,244.52 208.47,250.68 203.4,269.29 199.01,275.1 192.46,292.62 193.51,316.42 185.71,321.43" stroke="#f2fbff" stroke-width="1.3"/>
<polyline points="321.43,214.29 310.54,220.02 305.29,225.97 301.8,223.39 285.9,239.51 282.28,236 285.65,244.47 271.43,250" stroke="#f2fbff" stroke-width="1.3"/>
<polyline points="271.43,250 260.22,245.32 253.25,245.12 241.38,246.87 241.32,250.15 228.57,246.43" stroke="#f2fbff" stroke-width="1.3"/>
<polyline points="357.14,250 351.93,261.45 347.5,272.26 339.48,279.6 321.17,280.07 328.4,290.61 320.59,289.84 307.14,303.57" stroke="#f2fbff" stroke-width="1.3"/>
<polyline points="307.14,303.57 306.05,319.8 294.64,320.91 280.21,338.51 282.14,350.88 274.36,361.77 266.51,373.03 264.29,378.57" stroke="#f2fbff" stroke-width="1.3"/>
<polyline points="410.71,271.43 401.9,275.27 399.56,282.6 391.53,294.7 378.84,304.86 372.03,312.24 371.43,321.43" stroke="#f2fbff" stroke-width="1.3"/>
<polyline points="371.43,321.43 366.11,341.96 363.52,351.18 361.85,357.26 375.19,369.92 368.56,387.11 364.57,400.94 364.29,414.29" stroke="#f2fbff" stroke-width="1.3"/>
<polyline points="492.86,214.29 484.24,220.33 471.11,236.12 460.99,238.44 466.97,239.84 453.53,256.3 437.43,260.6 439.8,269.78 428.57,278.57" stroke="#f2fbff" stroke-width="1.3"/>
<polyline points="200,371.43 214.51,368.53 228.01,363.24 245.1,371.16 255.98,358.95 267.29,359.79 276.43,367.83 301.55,351.77 307.14,357.14" stroke="#f2fbff" stroke-width="1.3"/>
<polyline points="307.14,357.14 315.39,366.93 331.06,374.51 334.04,385.18 338.35,393.03 353.64,405.97 360.71,410.71" stroke="#f2fbff" stroke-width="1.3"/>
<polyline points="117.86,350 126.85,359.66 138.33,361.63 140.12,372.14 152.42,384.98 164.29,389.29" stroke="#f2fbff" stroke-width="1.3"/>
<polyline points="250,142.86 244.02,157.8 244.7,172.54 236.14,179.45 232.19,192.49 234.48,204.64 228.57,221.43" stroke="#f2fbff" stroke-width="1.3"/>
<polyline points="167.86,271.43 169.79,283.74 182.45,296.46 184.53,298.64 196.25,313.24 200,321.43" stroke="#f2fbff" stroke-width="1.3"/>
<polyline points="450,228.57 459.65,232.26 462.36,242.29 469.86,249.45 473.79,264.67 475,271.43" stroke="#f2fbff" stroke-width="1.3"/>
<polyline points="278.57,457.14 285.76,447.66 294.88,438.04 303.38,430.86 310.45,421.35 321.43,410.71" stroke="#f2fbff" stroke-width="1.3"/>
<polyline points="228.57,307.14 234.51,320.21 244.6,325.04 248.38,339.19 253.04,343.24 257.14,357.14" stroke="#f2fbff" stroke-width="1.3"/>
<polyline points="107.14,250 108.02,254.54 120.05,271.41 123.93,273.59 132.27,291.41 138.32,300.71 150,307.14" stroke="#f2fbff" stroke-width="1.3"/>
<polyline points="185.71,250 191.6,252.68 204.89,266.48 217.81,270.37 224,273.91 243.21,280.02 250,285.71" stroke="#f2fbff" stroke-width="1.3"/>
<polyline points="332.14,278.57 343.07,275.32 356,266.5 364.24,268.75 377.29,255.94 384.47,256.1 392.86,250" stroke="#f2fbff" stroke-width="1.3"/>
<polyline points="421.43,250 428.9,242.65 439.64,237.89 447.22,223.45 455.13,215.8 454.93,203.7 464.29,200" stroke="#f2fbff" stroke-width="1.3"/>
<polyline points="214.29,339.29 206.27,351.43 199.97,362.03 186.12,372.46 180.76,379.26 171.43,385.71" stroke="#f2fbff" stroke-width="1.3"/>
<polyline points="321.43,321.43 325.43,336.26 337.45,345.61 341.47,355.18 339.29,362.7 350,371.43" stroke="#f2fbff" stroke-width="1.3"/>
<polyline points="392.86,357.14 400.39,364.49 405.46,383.42 413.35,391.58 417.02,401.55 421.43,414.29" stroke="#f2fbff" stroke-width="1.3"/>
<polyline points="135.71,228.57 131.39,236.43 126.53,241.38 120.55,253.04 113.94,259.56 107.14,271.43" stroke="#f2fbff" stroke-width="1.3"/>
<polyline points="446.43,321.43 451.08,329.37 458.1,338.39 468.39,349.46 475,357.14" stroke="#f2fbff" stroke-width="1.3"/>
<polyline points="501.79,282.14 502.29,289.92 512,293.13 511.55,302.32 522.65,304.73 523.53,307.19 522.13,314.34 532.14,321.43" stroke="#e0701a" stroke-width="1.2"/>
</g></g>
</g>
<rect x="90" y="535.7" width="47" height="22.3" fill="url(#chk)" stroke="#a6a6a6" stroke-width="4"/>
<rect x="90.9" y="581.2" width="47" height="22.3" fill="#fff" stroke="#a6a6a6" stroke-width="4"/>
<rect x="90" y="623.9" width="47" height="22.3" fill="#ed7d31" stroke="#a6a6a6" stroke-width="4"/>
<rect x="91.8" y="668.5" width="47" height="22.3" fill="#354a9b" stroke="#a6a6a6" stroke-width="4"/>
<g font-weight="bold" font-size="25.6">
<text x="169.4" y="552.3" textLength="265" lengthAdjust="spacingAndGlyphs">Flexible copper fabric</text>
<text x="167" y="598" textLength="159" lengthAdjust="spacingAndGlyphs">Thermal glue</text>
<text x="169.4" y="644.8" textLength="239" lengthAdjust="spacingAndGlyphs">Flexible aramid film</text>
<text x="169.4" y="691" textLength="106" lengthAdjust="spacingAndGlyphs">TE chips</text>
</g>
<text x="-4" y="46" font-size="65">a</text>
</g>
<g id="p-b">
<g clip-path="url(#bc1)">
<rect x="636.9" y="28.2" width="458" height="223.7" fill="url(#bbg1)"/>
<g filter="url(#bsoft)">
<polygon points="678.33,194.42 894.16,197.33 895.62,195 676.87,191.5" fill="#8a5a3a" filter="url(#bsh)" opacity="0.5"/>
<polygon points="717.71,80.08 907.58,81.54 894.75,195.58 676.29,192.37" fill="url(#bcu)"/>
<polygon points="676.29,192.37 894.75,195.58 894.46,198.21 679.79,195" fill="#7e4a26"/>
<polygon points="907.58,81.54 909.33,82.42 897.08,195 894.75,195.58" fill="#9a6036"/>
<path d="M908.16 91.17 Q999.16 98.75 1098.33 108.37" fill="none" stroke="#1c1c1e" stroke-width="3.6"/>
<path d="M1022.5 106.92 L1098.33 115.08" fill="none" stroke="#2a2a2c" stroke-width="1.6"/>
<path d="M908.16 90 L900 183.33" fill="none" stroke="#1c1c1e" stroke-width="2.4"/>
<path d="M897.08 189.17 Q999.16 188.58 1098.33 181.29" fill="none" stroke="#ee2b25" stroke-width="6" stroke-linecap="round"/>
</g>
<rect x="992.7" y="216.9" width="59.5" height="11.7" fill="#7f7f7f"/>
</g>
<g clip-path="url(#bc2)">
<rect x="636.9" y="251.7" width="459.1" height="224.6" fill="url(#bbg2)"/>
<g filter="url(#bsoft)">
<polygon points="690,410.62 880.16,417.33 878.71,430.17 689.42,427.25" fill="#b9790f"/>
<polygon points="689.42,424.33 878.71,427.25 878.71,430.17 689.42,427.25" fill="#8a5a0a"/>
<polygon points="713.33,320.79 887.16,324.58 881.33,415 685.33,408.58" fill="#b07a2a"/>
<polygon points="716.5,327.49 752.47,328.31 750.76,334.94 714.45,334.09" fill="#4a3b2a"/>
<polygon points="713.33,337.69 749.83,338.57 748.12,345.2 711.28,344.28" fill="#4a3b2a"/>
<polygon points="710.16,347.88 747.19,348.82 745.48,355.45 708.11,354.47" fill="#4a3b2a"/>
<polygon points="706.98,358.07 744.54,359.08 742.83,365.71 704.93,364.66" fill="#4a3b2a"/>
<polygon points="703.81,368.27 741.9,369.33 740.19,375.96 701.76,374.86" fill="#4a3b2a"/>
<polygon points="700.64,378.46 739.26,379.59 737.55,386.22 698.59,385.05" fill="#4a3b2a"/>
<polygon points="697.47,388.65 736.61,389.84 734.9,396.48 695.42,395.24" fill="#4a3b2a"/>
<polygon points="694.3,398.85 733.97,400.1 732.26,406.73 692.25,405.44" fill="#4a3b2a"/>
<polygon points="760.37,328.49 796.35,329.31 795.05,335.99 758.74,335.13" fill="#4a3b2a"/>
<polygon points="757.84,338.76 794.35,339.64 793.05,346.32 756.21,345.4" fill="#4a3b2a"/>
<polygon points="755.31,349.03 792.35,349.97 791.05,356.65 753.68,355.67" fill="#4a3b2a"/>
<polygon points="752.79,359.3 790.34,360.3 789.05,366.98 751.15,365.94" fill="#4a3b2a"/>
<polygon points="750.26,369.57 788.34,370.64 787.05,377.32 748.62,376.21" fill="#4a3b2a"/>
<polygon points="747.73,379.84 786.34,380.97 785.05,387.65 746.1,386.48" fill="#4a3b2a"/>
<polygon points="745.2,390.11 784.34,391.3 783.05,397.98 743.57,396.75" fill="#4a3b2a"/>
<polygon points="742.67,400.38 782.34,401.63 781.05,408.31 741.04,407.01" fill="#4a3b2a"/>
<polygon points="805.12,329.51 840.22,330.31 839.34,337.04 803.91,336.2" fill="#4a3b2a"/>
<polygon points="803.25,339.86 838.86,340.71 837.98,347.44 802.04,346.55" fill="#4a3b2a"/>
<polygon points="801.38,350.2 837.5,351.12 836.63,357.85 800.17,356.89" fill="#4a3b2a"/>
<polygon points="799.51,360.55 836.15,361.53 835.27,368.26 798.29,367.24" fill="#4a3b2a"/>
<polygon points="797.63,370.9 834.79,371.94 833.91,378.67 796.42,377.59" fill="#4a3b2a"/>
<polygon points="795.76,381.24 833.43,382.34 832.55,389.07 794.55,387.93" fill="#4a3b2a"/>
<polygon points="793.89,391.59 832.07,392.75 831.19,399.48 792.68,398.28" fill="#4a3b2a"/>
<polygon points="792.02,401.94 830.71,403.16 829.84,409.89 790.81,408.63" fill="#4a3b2a"/>
<polygon points="849,330.51 882.34,331.26 881.86,338.04 848.2,337.25" fill="#4a3b2a"/>
<polygon points="847.77,340.93 881.6,341.74 881.12,348.52 846.97,347.67" fill="#4a3b2a"/>
<polygon points="846.54,351.35 880.86,352.23 880.38,359 845.74,358.09" fill="#4a3b2a"/>
<polygon points="845.31,361.77 880.12,362.71 879.64,369.48 844.51,368.51" fill="#4a3b2a"/>
<polygon points="844.08,372.2 879.38,373.19 878.9,379.96 843.28,378.94" fill="#4a3b2a"/>
<polygon points="842.85,382.62 878.63,383.67 878.16,390.44 842.05,389.36" fill="#4a3b2a"/>
<polygon points="841.62,393.04 877.89,394.15 877.41,400.92 840.82,399.78" fill="#4a3b2a"/>
<polygon points="840.39,403.47 877.15,404.63 876.67,411.4 839.59,410.2" fill="#4a3b2a"/>
<ellipse cx="734.64" cy="412.87" rx="4.5" ry="2.6" fill="#e8c020"/>
<ellipse cx="784.79" cy="414.53" rx="4.5" ry="2.6" fill="#e8c020"/>
<ellipse cx="833.96" cy="416.15" rx="4.5" ry="2.6" fill="#e8c020"/>
<path d="M887.75 326.92 Q999.16 333.33 1099.79 351.42" fill="none" stroke="#ee3a36" stroke-width="6" stroke-linecap="round"/>
<path d="M873.75 422.87 C940.83 417.92 999.16 403.33 1099.79 403.33" fill="none" stroke="#1c1c1e" stroke-width="5" stroke-linecap="round"/>
<polygon points="865,426.67 869.37,420.25 873.75,426.67" fill="#f4f4f4"/>
<polygon points="873.16,324.58 886,325.17 885.41,328.37 873.16,327.5" fill="#8a8a88"/>
</g>
<rect x="994.2" y="440" width="51.7" height="12" fill="#7f7f7f"/>
</g>
<g filter="url(#bsoft)">
<rect x="625.2" y="502.2" width="294.5" height="6.5" fill="url(#fab)"/>
<rect x="624.5" y="508.2" width="298.5" height="9.2" fill="#e9e9e9"/>
<rect x="624" y="517" width="299" height="11.8" fill="#ed7d31" rx="3.5"/>
<rect x="695.9" y="528.6" width="153.9" height="7.8" fill="#ffc000"/>
<rect x="695.9" y="536.2" width="42.2" height="49.3" fill="#323e52"/>
<rect x="806.7" y="536.2" width="42.2" height="49.3" fill="#323e52"/>
<rect x="629.7" y="590" width="299.1" height="8.6" fill="#ed7d31" rx="3"/>
<rect x="657.7" y="585.3" width="79.2" height="6.4" fill="#ffc000"/>
<rect x="805.8" y="585.3" width="81.1" height="6.4" fill="#ffc000"/>
<rect x="630" y="598.4" width="298.5" height="10.8" fill="#e9e9e9"/>
<rect x="631.9" y="609" width="295.3" height="7.6" fill="url(#fab)"/>
<line x1="758.5" y1="553.8" x2="787.8" y2="553.8" stroke="#3b3b3b" stroke-width="2.4"/><polygon points="737.5,553.8 758.5,564.8 758.5,542.8" fill="#3b3b3b"/><polygon points="808.8,553.8 787.8,564.8 787.8,542.8" fill="#3b3b3b"/>
<polygon points="974.29,518.86 1038.04,518.86 1038.04,610.54 974.29,610.54" fill="#323e52"/>
<polygon points="974.29,518.86 994.93,498.82 1054.73,498.82 1038.04,518.86" fill="#2f3a4c"/>
<polygon points="981.88,517.04 997.97,501.86 1049.57,501.86 1035.61,517.04" fill="#5b6676"/>
<polygon points="1038.04,518.86 1054.73,498.82 1054.73,589.29 1038.04,610.54" fill="#2a3444"/>
<line x1="1064.5" y1="524.6" x2="1064.5" y2="559.8" stroke="#3b3b3b" stroke-width="2.6"/><polygon points="1064.5,500.6 1053,524.6 1076,524.6" fill="#3b3b3b"/><polygon points="1064.5,583.8 1053,559.8 1076,559.8" fill="#3b3b3b"/>
<line x1="992.7" y1="624.8" x2="1010.6" y2="624.8" stroke="#3b3b3b" stroke-width="2.4"/><polygon points="970.7,624.8 992.7,635.8 992.7,613.8" fill="#3b3b3b"/><polygon points="1032.6,624.8 1010.6,635.8 1010.6,613.8" fill="#3b3b3b"/>
<line x1="1051.92" y1="617.27" x2="1056.28" y2="610.83" stroke="#3b3b3b" stroke-width="2.6"/><polygon points="1039.6,635.5 1061.03,623.43 1042.81,611.11" fill="#3b3b3b"/><polygon points="1068.6,592.6 1065.39,616.99 1047.17,604.67" fill="#3b3b3b"/>
</g>
<text x="747.2" y="582.3" font-size="17.4" font-weight="bold" fill="#111" textLength="57" lengthAdjust="spacingAndGlyphs">air gap</text>
<text x="1092.5" y="558" font-size="21.5" font-weight="bold" fill="#111">H</text>
<text x="1010" y="661.5" font-size="21.5" font-weight="bold" fill="#111">L</text>
<text x="1067.3" y="644" font-size="21.5" font-weight="bold" fill="#111" textLength="22.5" lengthAdjust="spacingAndGlyphs">W</text>
<text x="576" y="46" font-size="65">b</text>
</g>
</svg>
</body>
</html>
